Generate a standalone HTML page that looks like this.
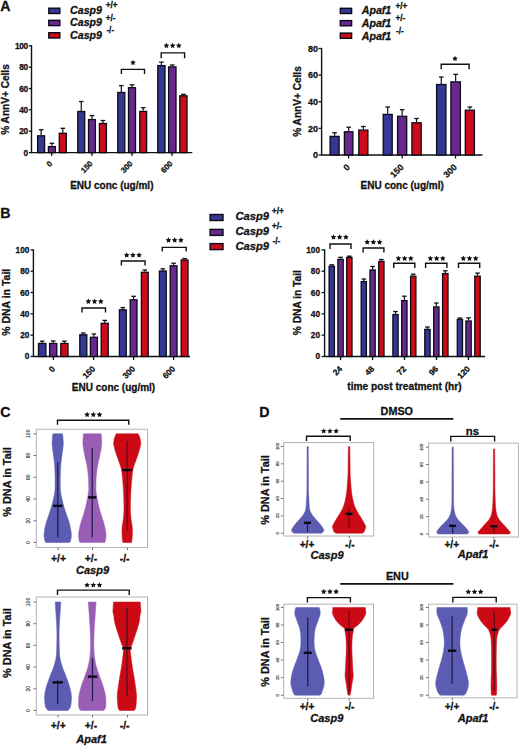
<!DOCTYPE html>
<html><head><meta charset="utf-8"><style>
html,body{margin:0;padding:0;background:#fff;}
svg{display:block;font-family:"Liberation Sans",sans-serif;}
</style></head><body>
<svg width="520" height="747" viewBox="0 0 520 747">
<rect x="0" y="0" width="520" height="747" fill="#fff"/>
<text x="0.3" y="11.3" font-size="14.2" text-anchor="start" font-weight="bold" font-style="normal" fill="#111" stroke="#111" stroke-width="0.28">A</text>
<text x="0.2" y="217.6" font-size="14.2" text-anchor="start" font-weight="bold" font-style="normal" fill="#111" stroke="#111" stroke-width="0.28">B</text>
<text x="0.3" y="416.8" font-size="14.2" text-anchor="start" font-weight="bold" font-style="normal" fill="#111" stroke="#111" stroke-width="0.28">C</text>
<text x="259.3" y="416.8" font-size="14.2" text-anchor="start" font-weight="bold" font-style="normal" fill="#111" stroke="#111" stroke-width="0.28">D</text>
<rect x="48.8" y="8.2" width="11" height="5.3" fill="#343892" stroke="#0a0a1a" stroke-width="1.4"/>
<text x="70.1" y="13.8" font-size="10.6" text-anchor="start" font-weight="bold" font-style="italic" fill="#111" stroke="#111" stroke-width="0.28">Casp9</text>
<text x="105.8" y="8.2" font-size="8.2" text-anchor="start" font-weight="bold" font-style="normal" fill="#111" stroke="#111" stroke-width="0.28">+/+</text>
<rect x="48.8" y="20.3" width="11" height="5.3" fill="#6a288e" stroke="#0a0a1a" stroke-width="1.4"/>
<text x="70.1" y="26.4" font-size="10.6" text-anchor="start" font-weight="bold" font-style="italic" fill="#111" stroke="#111" stroke-width="0.28">Casp9</text>
<text x="105.8" y="20.8" font-size="8.2" text-anchor="start" font-weight="bold" font-style="normal" fill="#111" stroke="#111" stroke-width="0.28">+/-</text>
<rect x="48.8" y="32.7" width="11" height="5.3" fill="#cd0c1a" stroke="#0a0a1a" stroke-width="1.4"/>
<text x="70.1" y="39" font-size="10.6" text-anchor="start" font-weight="bold" font-style="italic" fill="#111" stroke="#111" stroke-width="0.28">Casp9</text>
<text x="106.4" y="33.4" font-size="8.2" text-anchor="start" font-weight="bold" font-style="normal" fill="#111" stroke="#111" stroke-width="0.28">-/-</text>
<rect x="340.3" y="8.3" width="11.3" height="5.2" fill="#343892" stroke="#0a0a1a" stroke-width="1.4"/>
<text x="361.8" y="14.3" font-size="10.6" text-anchor="start" font-weight="bold" font-style="italic" fill="#111" stroke="#111" stroke-width="0.28">Apaf1</text>
<text x="395.4" y="8.5" font-size="8.2" text-anchor="start" font-weight="bold" font-style="normal" fill="#111" stroke="#111" stroke-width="0.28">+/+</text>
<rect x="340.3" y="20.6" width="11.3" height="5.2" fill="#6a288e" stroke="#0a0a1a" stroke-width="1.4"/>
<text x="361.8" y="26.9" font-size="10.6" text-anchor="start" font-weight="bold" font-style="italic" fill="#111" stroke="#111" stroke-width="0.28">Apaf1</text>
<text x="395.4" y="21.1" font-size="8.2" text-anchor="start" font-weight="bold" font-style="normal" fill="#111" stroke="#111" stroke-width="0.28">+/-</text>
<rect x="340.3" y="33.1" width="11.3" height="5.2" fill="#cd0c1a" stroke="#0a0a1a" stroke-width="1.4"/>
<text x="361.8" y="39.5" font-size="10.6" text-anchor="start" font-weight="bold" font-style="italic" fill="#111" stroke="#111" stroke-width="0.28">Apaf1</text>
<text x="396" y="33.7" font-size="8.2" text-anchor="start" font-weight="bold" font-style="normal" fill="#111" stroke="#111" stroke-width="0.28">-/-</text>
<rect x="210.1" y="214.5" width="12.9" height="6" fill="#343892" stroke="#0a0a1a" stroke-width="1.4"/>
<text x="235.4" y="220.2" font-size="11.2" text-anchor="start" font-weight="bold" font-style="italic" fill="#111" stroke="#111" stroke-width="0.28">Casp9</text>
<text x="271.8" y="214.2" font-size="8.5" text-anchor="start" font-weight="bold" font-style="normal" fill="#111" stroke="#111" stroke-width="0.28">+/+</text>
<rect x="210.1" y="229.4" width="12.9" height="6" fill="#6a288e" stroke="#0a0a1a" stroke-width="1.4"/>
<text x="235.4" y="234.9" font-size="11.2" text-anchor="start" font-weight="bold" font-style="italic" fill="#111" stroke="#111" stroke-width="0.28">Casp9</text>
<text x="271.8" y="228.9" font-size="8.5" text-anchor="start" font-weight="bold" font-style="normal" fill="#111" stroke="#111" stroke-width="0.28">+/-</text>
<rect x="210.1" y="243.6" width="12.9" height="6" fill="#cd0c1a" stroke="#0a0a1a" stroke-width="1.4"/>
<text x="235.4" y="249.8" font-size="11.2" text-anchor="start" font-weight="bold" font-style="italic" fill="#111" stroke="#111" stroke-width="0.28">Casp9</text>
<text x="272.4" y="243.8" font-size="8.5" text-anchor="start" font-weight="bold" font-style="normal" fill="#111" stroke="#111" stroke-width="0.28">-/-</text>
<line x1="31.5" y1="45.2" x2="31.5" y2="153.2" stroke="#111" stroke-width="1.4"/>
<line x1="28.9" y1="152.6" x2="31.5" y2="152.6" stroke="#111" stroke-width="1.3"/>
<text x="27.6" y="155.59" font-size="8.3" text-anchor="end" font-weight="bold" font-style="normal" fill="#111" stroke="#111" stroke-width="0.28" letter-spacing="-0.45">0</text>
<line x1="28.9" y1="131.24" x2="31.5" y2="131.24" stroke="#111" stroke-width="1.3"/>
<text x="27.6" y="134.23" font-size="8.3" text-anchor="end" font-weight="bold" font-style="normal" fill="#111" stroke="#111" stroke-width="0.28" letter-spacing="-0.45">20</text>
<line x1="28.9" y1="109.88" x2="31.5" y2="109.88" stroke="#111" stroke-width="1.3"/>
<text x="27.6" y="112.87" font-size="8.3" text-anchor="end" font-weight="bold" font-style="normal" fill="#111" stroke="#111" stroke-width="0.28" letter-spacing="-0.45">40</text>
<line x1="28.9" y1="88.52" x2="31.5" y2="88.52" stroke="#111" stroke-width="1.3"/>
<text x="27.6" y="91.51" font-size="8.3" text-anchor="end" font-weight="bold" font-style="normal" fill="#111" stroke="#111" stroke-width="0.28" letter-spacing="-0.45">60</text>
<line x1="28.9" y1="67.16" x2="31.5" y2="67.16" stroke="#111" stroke-width="1.3"/>
<text x="27.6" y="70.15" font-size="8.3" text-anchor="end" font-weight="bold" font-style="normal" fill="#111" stroke="#111" stroke-width="0.28" letter-spacing="-0.45">80</text>
<line x1="28.9" y1="45.8" x2="31.5" y2="45.8" stroke="#111" stroke-width="1.3"/>
<text x="27.6" y="48.79" font-size="8.3" text-anchor="end" font-weight="bold" font-style="normal" fill="#111" stroke="#111" stroke-width="0.28" letter-spacing="-0.45">100</text>
<line x1="31.5" y1="152.6" x2="192.3" y2="152.6" stroke="#111" stroke-width="1.4"/>
<line x1="51.7" y1="152.6" x2="51.7" y2="156.1" stroke="#111" stroke-width="1.3"/>
<text x="52.9" y="164.2" font-size="7.8" text-anchor="end" font-weight="bold" font-style="normal" fill="#111" stroke="#111" stroke-width="0.28" transform="rotate(-45 52.9 164.2)">0</text>
<line x1="91.9" y1="152.6" x2="91.9" y2="156.1" stroke="#111" stroke-width="1.3"/>
<text x="93.1" y="164.2" font-size="7.8" text-anchor="end" font-weight="bold" font-style="normal" fill="#111" stroke="#111" stroke-width="0.28" transform="rotate(-45 93.1 164.2)">150</text>
<line x1="132" y1="152.6" x2="132" y2="156.1" stroke="#111" stroke-width="1.3"/>
<text x="133.2" y="164.2" font-size="7.8" text-anchor="end" font-weight="bold" font-style="normal" fill="#111" stroke="#111" stroke-width="0.28" transform="rotate(-45 133.2 164.2)">300</text>
<line x1="172" y1="152.6" x2="172" y2="156.1" stroke="#111" stroke-width="1.3"/>
<text x="173.2" y="164.2" font-size="7.8" text-anchor="end" font-weight="bold" font-style="normal" fill="#111" stroke="#111" stroke-width="0.28" transform="rotate(-45 173.2 164.2)">600</text>
<line x1="41.1" y1="135.2" x2="41.1" y2="129.8" stroke="#111" stroke-width="1.2"/>
<line x1="38.8" y1="129.8" x2="43.4" y2="129.8" stroke="#111" stroke-width="1.3"/>
<rect x="37.6" y="135.8" width="7" height="16.8" fill="#343892" stroke="#0a0a1a" stroke-width="1.3"/>
<line x1="51.9" y1="146" x2="51.9" y2="143.3" stroke="#111" stroke-width="1.2"/>
<line x1="49.6" y1="143.3" x2="54.2" y2="143.3" stroke="#111" stroke-width="1.3"/>
<rect x="48.4" y="146.6" width="7" height="6" fill="#6a288e" stroke="#0a0a1a" stroke-width="1.3"/>
<line x1="62.8" y1="132.7" x2="62.8" y2="128.3" stroke="#111" stroke-width="1.2"/>
<line x1="60.5" y1="128.3" x2="65.1" y2="128.3" stroke="#111" stroke-width="1.3"/>
<rect x="59.3" y="133.3" width="7" height="19.3" fill="#cd0c1a" stroke="#0a0a1a" stroke-width="1.3"/>
<line x1="81.25" y1="110.9" x2="81.25" y2="101.5" stroke="#111" stroke-width="1.2"/>
<line x1="78.95" y1="101.5" x2="83.55" y2="101.5" stroke="#111" stroke-width="1.3"/>
<rect x="77.8" y="111.5" width="6.9" height="41.1" fill="#343892" stroke="#0a0a1a" stroke-width="1.3"/>
<line x1="91.95" y1="119" x2="91.95" y2="115.6" stroke="#111" stroke-width="1.2"/>
<line x1="89.65" y1="115.6" x2="94.25" y2="115.6" stroke="#111" stroke-width="1.3"/>
<rect x="88.5" y="119.6" width="6.9" height="33" fill="#6a288e" stroke="#0a0a1a" stroke-width="1.3"/>
<line x1="102.9" y1="122.9" x2="102.9" y2="120.5" stroke="#111" stroke-width="1.2"/>
<line x1="100.6" y1="120.5" x2="105.2" y2="120.5" stroke="#111" stroke-width="1.3"/>
<rect x="99.4" y="123.5" width="7" height="29.1" fill="#cd0c1a" stroke="#0a0a1a" stroke-width="1.3"/>
<line x1="121.3" y1="91.9" x2="121.3" y2="85.6" stroke="#111" stroke-width="1.2"/>
<line x1="119" y1="85.6" x2="123.6" y2="85.6" stroke="#111" stroke-width="1.3"/>
<rect x="117.8" y="92.5" width="7" height="60.1" fill="#343892" stroke="#0a0a1a" stroke-width="1.3"/>
<line x1="132" y1="87.1" x2="132" y2="84.8" stroke="#111" stroke-width="1.2"/>
<line x1="129.7" y1="84.8" x2="134.3" y2="84.8" stroke="#111" stroke-width="1.3"/>
<rect x="128.5" y="87.7" width="7" height="64.9" fill="#6a288e" stroke="#0a0a1a" stroke-width="1.3"/>
<line x1="143.2" y1="110.8" x2="143.2" y2="107.7" stroke="#111" stroke-width="1.2"/>
<line x1="140.9" y1="107.7" x2="145.5" y2="107.7" stroke="#111" stroke-width="1.3"/>
<rect x="139.8" y="111.4" width="6.8" height="41.2" fill="#cd0c1a" stroke="#0a0a1a" stroke-width="1.3"/>
<line x1="161.4" y1="65" x2="161.4" y2="62.1" stroke="#111" stroke-width="1.2"/>
<line x1="159.1" y1="62.1" x2="163.7" y2="62.1" stroke="#111" stroke-width="1.3"/>
<rect x="157.8" y="65.6" width="7.2" height="87" fill="#343892" stroke="#0a0a1a" stroke-width="1.3"/>
<line x1="172.3" y1="66.3" x2="172.3" y2="65" stroke="#111" stroke-width="1.2"/>
<line x1="170" y1="65" x2="174.6" y2="65" stroke="#111" stroke-width="1.3"/>
<rect x="168.6" y="66.9" width="7.4" height="85.7" fill="#6a288e" stroke="#0a0a1a" stroke-width="1.3"/>
<line x1="183.4" y1="95.2" x2="183.4" y2="94.3" stroke="#111" stroke-width="1.2"/>
<line x1="181.1" y1="94.3" x2="185.7" y2="94.3" stroke="#111" stroke-width="1.3"/>
<rect x="179.8" y="95.8" width="7.2" height="56.8" fill="#cd0c1a" stroke="#0a0a1a" stroke-width="1.3"/>
<path d="M121.4 74V69.4H144.5V74" fill="none" stroke="#111" stroke-width="1.4"/>
<polygon points="133,59.75 133.87,61.5 135.81,61.79 134.4,63.15 134.73,65.08 133,64.17 131.27,65.08 131.6,63.15 130.19,61.79 132.13,61.5" fill="#111"/>
<path d="M161.2 58.3V52.9H184.6V58.3" fill="none" stroke="#111" stroke-width="1.4"/>
<polygon points="166.4,42.75 167.27,44.5 169.21,44.79 167.8,46.15 168.13,48.08 166.4,47.17 164.67,48.08 165,46.15 163.59,44.79 165.53,44.5" fill="#111"/>
<polygon points="172.6,42.75 173.47,44.5 175.41,44.79 174,46.15 174.33,48.08 172.6,47.17 170.87,48.08 171.2,46.15 169.79,44.79 171.73,44.5" fill="#111"/>
<polygon points="178.8,42.75 179.67,44.5 181.61,44.79 180.2,46.15 180.53,48.08 178.8,47.17 177.07,48.08 177.4,46.15 175.99,44.79 177.93,44.5" fill="#111"/>
<text x="8.7" y="99.5" font-size="10.1" text-anchor="middle" font-weight="bold" font-style="normal" fill="#111" stroke="#111" stroke-width="0.28" transform="rotate(-90 8.7 99.5)">% AnnV+ Cells</text>
<text x="111.8" y="189.2" font-size="10.0" text-anchor="middle" font-weight="bold" font-style="normal" fill="#111" stroke="#111" stroke-width="0.28">ENU conc (ug/ml)</text>
<line x1="321.6" y1="47.9" x2="321.6" y2="155.6" stroke="#111" stroke-width="1.4"/>
<line x1="318.6" y1="155" x2="321.6" y2="155" stroke="#111" stroke-width="1.3"/>
<text x="318" y="158.24" font-size="9.0" text-anchor="end" font-weight="bold" font-style="normal" fill="#111" stroke="#111" stroke-width="0.28" letter-spacing="0">0</text>
<line x1="318.6" y1="128.38" x2="321.6" y2="128.38" stroke="#111" stroke-width="1.3"/>
<text x="318" y="131.62" font-size="9.0" text-anchor="end" font-weight="bold" font-style="normal" fill="#111" stroke="#111" stroke-width="0.28" letter-spacing="0">20</text>
<line x1="318.6" y1="101.75" x2="321.6" y2="101.75" stroke="#111" stroke-width="1.3"/>
<text x="318" y="104.99" font-size="9.0" text-anchor="end" font-weight="bold" font-style="normal" fill="#111" stroke="#111" stroke-width="0.28" letter-spacing="0">40</text>
<line x1="318.6" y1="75.12" x2="321.6" y2="75.12" stroke="#111" stroke-width="1.3"/>
<text x="318" y="78.36" font-size="9.0" text-anchor="end" font-weight="bold" font-style="normal" fill="#111" stroke="#111" stroke-width="0.28" letter-spacing="0">60</text>
<line x1="318.6" y1="48.5" x2="321.6" y2="48.5" stroke="#111" stroke-width="1.3"/>
<text x="318" y="51.74" font-size="9.0" text-anchor="end" font-weight="bold" font-style="normal" fill="#111" stroke="#111" stroke-width="0.28" letter-spacing="0">80</text>
<line x1="321.6" y1="155" x2="482.4" y2="155" stroke="#111" stroke-width="1.4"/>
<line x1="348.6" y1="155" x2="348.6" y2="158.5" stroke="#111" stroke-width="1.3"/>
<text x="350.6" y="167.8" font-size="8.8" text-anchor="end" font-weight="bold" font-style="normal" fill="#111" stroke="#111" stroke-width="0.28" transform="rotate(-45 350.6 167.8)">0</text>
<line x1="402.2" y1="155" x2="402.2" y2="158.5" stroke="#111" stroke-width="1.3"/>
<text x="404.2" y="167.8" font-size="8.8" text-anchor="end" font-weight="bold" font-style="normal" fill="#111" stroke="#111" stroke-width="0.28" transform="rotate(-45 404.2 167.8)">150</text>
<line x1="455.5" y1="155" x2="455.5" y2="158.5" stroke="#111" stroke-width="1.3"/>
<text x="457.5" y="167.8" font-size="8.8" text-anchor="end" font-weight="bold" font-style="normal" fill="#111" stroke="#111" stroke-width="0.28" transform="rotate(-45 457.5 167.8)">300</text>
<line x1="334.6" y1="135.8" x2="334.6" y2="132.8" stroke="#111" stroke-width="1.2"/>
<line x1="332.3" y1="132.8" x2="336.9" y2="132.8" stroke="#111" stroke-width="1.3"/>
<rect x="330.1" y="136.4" width="9" height="18.6" fill="#343892" stroke="#0a0a1a" stroke-width="1.3"/>
<line x1="348.65" y1="131.2" x2="348.65" y2="127.2" stroke="#111" stroke-width="1.2"/>
<line x1="346.35" y1="127.2" x2="350.95" y2="127.2" stroke="#111" stroke-width="1.3"/>
<rect x="344.4" y="131.8" width="8.5" height="23.2" fill="#6a288e" stroke="#0a0a1a" stroke-width="1.3"/>
<line x1="363.35" y1="129.5" x2="363.35" y2="126.5" stroke="#111" stroke-width="1.2"/>
<line x1="361.05" y1="126.5" x2="365.65" y2="126.5" stroke="#111" stroke-width="1.3"/>
<rect x="358.8" y="130.1" width="9.1" height="24.9" fill="#cd0c1a" stroke="#0a0a1a" stroke-width="1.3"/>
<line x1="387.7" y1="113.8" x2="387.7" y2="107" stroke="#111" stroke-width="1.2"/>
<line x1="385.4" y1="107" x2="390" y2="107" stroke="#111" stroke-width="1.3"/>
<rect x="383.2" y="114.4" width="9" height="40.6" fill="#343892" stroke="#0a0a1a" stroke-width="1.3"/>
<line x1="402.15" y1="115.7" x2="402.15" y2="109.7" stroke="#111" stroke-width="1.2"/>
<line x1="399.85" y1="109.7" x2="404.45" y2="109.7" stroke="#111" stroke-width="1.3"/>
<rect x="397.6" y="116.3" width="9.1" height="38.7" fill="#6a288e" stroke="#0a0a1a" stroke-width="1.3"/>
<line x1="416.55" y1="122.2" x2="416.55" y2="118.5" stroke="#111" stroke-width="1.2"/>
<line x1="414.25" y1="118.5" x2="418.85" y2="118.5" stroke="#111" stroke-width="1.3"/>
<rect x="411.9" y="122.8" width="9.3" height="32.2" fill="#cd0c1a" stroke="#0a0a1a" stroke-width="1.3"/>
<line x1="441.25" y1="83.9" x2="441.25" y2="77" stroke="#111" stroke-width="1.2"/>
<line x1="438.95" y1="77" x2="443.55" y2="77" stroke="#111" stroke-width="1.3"/>
<rect x="436.6" y="84.5" width="9.3" height="70.5" fill="#343892" stroke="#0a0a1a" stroke-width="1.3"/>
<line x1="455.65" y1="81.3" x2="455.65" y2="74.3" stroke="#111" stroke-width="1.2"/>
<line x1="453.35" y1="74.3" x2="457.95" y2="74.3" stroke="#111" stroke-width="1.3"/>
<rect x="450.9" y="81.9" width="9.5" height="73.1" fill="#6a288e" stroke="#0a0a1a" stroke-width="1.3"/>
<line x1="469.85" y1="109.6" x2="469.85" y2="107" stroke="#111" stroke-width="1.2"/>
<line x1="467.55" y1="107" x2="472.15" y2="107" stroke="#111" stroke-width="1.3"/>
<rect x="465.3" y="110.2" width="9.1" height="44.8" fill="#cd0c1a" stroke="#0a0a1a" stroke-width="1.3"/>
<path d="M441.2 69.2V64.3H469.1V69.2" fill="none" stroke="#111" stroke-width="1.4"/>
<polygon points="455,55.75 455.87,57.5 457.81,57.79 456.4,59.15 456.73,61.08 455,60.17 453.27,61.08 453.6,59.15 452.19,57.79 454.13,57.5" fill="#111"/>
<text x="300.6" y="101.5" font-size="10.1" text-anchor="middle" font-weight="bold" font-style="normal" fill="#111" stroke="#111" stroke-width="0.28" transform="rotate(-90 300.6 101.5)">% AnnV+ Cells</text>
<text x="402.2" y="189.2" font-size="10.0" text-anchor="middle" font-weight="bold" font-style="normal" fill="#111" stroke="#111" stroke-width="0.28">ENU conc (ug/ml)</text>
<line x1="33.4" y1="249.3" x2="33.4" y2="357.1" stroke="#111" stroke-width="1.4"/>
<line x1="30.6" y1="356.5" x2="33.4" y2="356.5" stroke="#111" stroke-width="1.3"/>
<text x="29.4" y="359.49" font-size="8.3" text-anchor="end" font-weight="bold" font-style="normal" fill="#111" stroke="#111" stroke-width="0.28" letter-spacing="0">0</text>
<line x1="30.6" y1="335.18" x2="33.4" y2="335.18" stroke="#111" stroke-width="1.3"/>
<text x="29.4" y="338.17" font-size="8.3" text-anchor="end" font-weight="bold" font-style="normal" fill="#111" stroke="#111" stroke-width="0.28" letter-spacing="0">20</text>
<line x1="30.6" y1="313.86" x2="33.4" y2="313.86" stroke="#111" stroke-width="1.3"/>
<text x="29.4" y="316.85" font-size="8.3" text-anchor="end" font-weight="bold" font-style="normal" fill="#111" stroke="#111" stroke-width="0.28" letter-spacing="0">40</text>
<line x1="30.6" y1="292.54" x2="33.4" y2="292.54" stroke="#111" stroke-width="1.3"/>
<text x="29.4" y="295.53" font-size="8.3" text-anchor="end" font-weight="bold" font-style="normal" fill="#111" stroke="#111" stroke-width="0.28" letter-spacing="0">60</text>
<line x1="30.6" y1="271.22" x2="33.4" y2="271.22" stroke="#111" stroke-width="1.3"/>
<text x="29.4" y="274.21" font-size="8.3" text-anchor="end" font-weight="bold" font-style="normal" fill="#111" stroke="#111" stroke-width="0.28" letter-spacing="0">80</text>
<line x1="30.6" y1="249.9" x2="33.4" y2="249.9" stroke="#111" stroke-width="1.3"/>
<text x="29.4" y="252.89" font-size="8.3" text-anchor="end" font-weight="bold" font-style="normal" fill="#111" stroke="#111" stroke-width="0.28" letter-spacing="0">100</text>
<line x1="33.4" y1="356.5" x2="190" y2="356.5" stroke="#111" stroke-width="1.4"/>
<line x1="53.4" y1="356.5" x2="53.4" y2="360" stroke="#111" stroke-width="1.3"/>
<text x="55.6" y="369.4" font-size="8.4" text-anchor="end" font-weight="bold" font-style="normal" fill="#111" stroke="#111" stroke-width="0.28" transform="rotate(-45 55.6 369.4)">0</text>
<line x1="93.6" y1="356.5" x2="93.6" y2="360" stroke="#111" stroke-width="1.3"/>
<text x="95.8" y="369.4" font-size="8.4" text-anchor="end" font-weight="bold" font-style="normal" fill="#111" stroke="#111" stroke-width="0.28" transform="rotate(-45 95.8 369.4)">150</text>
<line x1="133.6" y1="356.5" x2="133.6" y2="360" stroke="#111" stroke-width="1.3"/>
<text x="135.8" y="369.4" font-size="8.4" text-anchor="end" font-weight="bold" font-style="normal" fill="#111" stroke="#111" stroke-width="0.28" transform="rotate(-45 135.8 369.4)">300</text>
<line x1="173.6" y1="356.5" x2="173.6" y2="360" stroke="#111" stroke-width="1.3"/>
<text x="175.8" y="369.4" font-size="8.4" text-anchor="end" font-weight="bold" font-style="normal" fill="#111" stroke="#111" stroke-width="0.28" transform="rotate(-45 175.8 369.4)">600</text>
<line x1="42.2" y1="342.9" x2="42.2" y2="341.2" stroke="#111" stroke-width="1.2"/>
<line x1="39.9" y1="341.2" x2="44.5" y2="341.2" stroke="#111" stroke-width="1.3"/>
<rect x="38.5" y="343.5" width="7.4" height="13" fill="#343892" stroke="#0a0a1a" stroke-width="1.3"/>
<line x1="53.2" y1="342.9" x2="53.2" y2="341" stroke="#111" stroke-width="1.2"/>
<line x1="50.9" y1="341" x2="55.5" y2="341" stroke="#111" stroke-width="1.3"/>
<rect x="49.6" y="343.5" width="7.2" height="13" fill="#6a288e" stroke="#0a0a1a" stroke-width="1.3"/>
<line x1="64.4" y1="342.9" x2="64.4" y2="341.2" stroke="#111" stroke-width="1.2"/>
<line x1="62.1" y1="341.2" x2="66.7" y2="341.2" stroke="#111" stroke-width="1.3"/>
<rect x="60.8" y="343.5" width="7.2" height="13" fill="#cd0c1a" stroke="#0a0a1a" stroke-width="1.3"/>
<line x1="83.3" y1="334.2" x2="83.3" y2="333" stroke="#111" stroke-width="1.2"/>
<line x1="81" y1="333" x2="85.6" y2="333" stroke="#111" stroke-width="1.3"/>
<rect x="79.8" y="334.8" width="7" height="21.7" fill="#343892" stroke="#0a0a1a" stroke-width="1.3"/>
<line x1="93.9" y1="336.7" x2="93.9" y2="334" stroke="#111" stroke-width="1.2"/>
<line x1="91.6" y1="334" x2="96.2" y2="334" stroke="#111" stroke-width="1.3"/>
<rect x="90.4" y="337.3" width="7" height="19.2" fill="#6a288e" stroke="#0a0a1a" stroke-width="1.3"/>
<line x1="104.7" y1="322.7" x2="104.7" y2="320.4" stroke="#111" stroke-width="1.2"/>
<line x1="102.4" y1="320.4" x2="107" y2="320.4" stroke="#111" stroke-width="1.3"/>
<rect x="101.2" y="323.3" width="7" height="33.2" fill="#cd0c1a" stroke="#0a0a1a" stroke-width="1.3"/>
<line x1="122.8" y1="309.2" x2="122.8" y2="307.6" stroke="#111" stroke-width="1.2"/>
<line x1="120.5" y1="307.6" x2="125.1" y2="307.6" stroke="#111" stroke-width="1.3"/>
<rect x="119.4" y="309.8" width="6.8" height="46.7" fill="#343892" stroke="#0a0a1a" stroke-width="1.3"/>
<line x1="133.6" y1="299.2" x2="133.6" y2="296.3" stroke="#111" stroke-width="1.2"/>
<line x1="131.3" y1="296.3" x2="135.9" y2="296.3" stroke="#111" stroke-width="1.3"/>
<rect x="130.2" y="299.8" width="6.8" height="56.7" fill="#6a288e" stroke="#0a0a1a" stroke-width="1.3"/>
<line x1="144.8" y1="271.7" x2="144.8" y2="270" stroke="#111" stroke-width="1.2"/>
<line x1="142.5" y1="270" x2="147.1" y2="270" stroke="#111" stroke-width="1.3"/>
<rect x="141.4" y="272.3" width="6.8" height="84.2" fill="#cd0c1a" stroke="#0a0a1a" stroke-width="1.3"/>
<line x1="162.8" y1="270.4" x2="162.8" y2="268.8" stroke="#111" stroke-width="1.2"/>
<line x1="160.5" y1="268.8" x2="165.1" y2="268.8" stroke="#111" stroke-width="1.3"/>
<rect x="159.4" y="271" width="6.8" height="85.5" fill="#343892" stroke="#0a0a1a" stroke-width="1.3"/>
<line x1="173.6" y1="265.2" x2="173.6" y2="263.2" stroke="#111" stroke-width="1.2"/>
<line x1="171.3" y1="263.2" x2="175.9" y2="263.2" stroke="#111" stroke-width="1.3"/>
<rect x="170.2" y="265.8" width="6.8" height="90.7" fill="#6a288e" stroke="#0a0a1a" stroke-width="1.3"/>
<line x1="184.6" y1="259.4" x2="184.6" y2="258.6" stroke="#111" stroke-width="1.2"/>
<line x1="182.3" y1="258.6" x2="186.9" y2="258.6" stroke="#111" stroke-width="1.3"/>
<rect x="181.2" y="260" width="6.8" height="96.5" fill="#cd0c1a" stroke="#0a0a1a" stroke-width="1.3"/>
<path d="M82 312.5V308H105.5V312.5" fill="none" stroke="#111" stroke-width="1.4"/>
<polygon points="88.4,298.55 89.27,300.3 91.21,300.59 89.8,301.95 90.13,303.88 88.4,302.97 86.67,303.88 87,301.95 85.59,300.59 87.53,300.3" fill="#111"/>
<polygon points="94.6,298.55 95.47,300.3 97.41,300.59 96,301.95 96.33,303.88 94.6,302.97 92.87,303.88 93.2,301.95 91.79,300.59 93.73,300.3" fill="#111"/>
<polygon points="100.8,298.55 101.67,300.3 103.61,300.59 102.2,301.95 102.53,303.88 100.8,302.97 99.07,303.88 99.4,301.95 97.99,300.59 99.93,300.3" fill="#111"/>
<path d="M121.4 265.6V261H145V265.6" fill="none" stroke="#111" stroke-width="1.4"/>
<polygon points="126.7,252.25 127.57,254 129.51,254.29 128.1,255.65 128.43,257.58 126.7,256.67 124.97,257.58 125.3,255.65 123.89,254.29 125.83,254" fill="#111"/>
<polygon points="132.9,252.25 133.77,254 135.71,254.29 134.3,255.65 134.63,257.58 132.9,256.67 131.17,257.58 131.5,255.65 130.09,254.29 132.03,254" fill="#111"/>
<polygon points="139.1,252.25 139.97,254 141.91,254.29 140.5,255.65 140.83,257.58 139.1,256.67 137.37,257.58 137.7,255.65 136.29,254.29 138.23,254" fill="#111"/>
<path d="M162.3 251.6V247.4H186.2V251.6" fill="none" stroke="#111" stroke-width="1.4"/>
<polygon points="168.5,237.35 169.37,239.1 171.31,239.39 169.9,240.75 170.23,242.68 168.5,241.77 166.77,242.68 167.1,240.75 165.69,239.39 167.63,239.1" fill="#111"/>
<polygon points="174.7,237.35 175.57,239.1 177.51,239.39 176.1,240.75 176.43,242.68 174.7,241.77 172.97,242.68 173.3,240.75 171.89,239.39 173.83,239.1" fill="#111"/>
<polygon points="180.9,237.35 181.77,239.1 183.71,239.39 182.3,240.75 182.63,242.68 180.9,241.77 179.17,242.68 179.5,240.75 178.09,239.39 180.03,239.1" fill="#111"/>
<text x="9.95" y="302.3" font-size="10.5" text-anchor="middle" font-weight="bold" font-style="normal" fill="#111" stroke="#111" stroke-width="0.28" transform="rotate(-90 9.95 302.3)">% DNA in Tail</text>
<text x="113.5" y="391" font-size="10.0" text-anchor="middle" font-weight="bold" font-style="normal" fill="#111" stroke="#111" stroke-width="0.28">ENU conc (ug/ml)</text>
<line x1="324.6" y1="249.3" x2="324.6" y2="357.1" stroke="#111" stroke-width="1.4"/>
<line x1="321.6" y1="356.5" x2="324.6" y2="356.5" stroke="#111" stroke-width="1.3"/>
<text x="320" y="359.49" font-size="8.3" text-anchor="end" font-weight="bold" font-style="normal" fill="#111" stroke="#111" stroke-width="0.28" letter-spacing="0">0</text>
<line x1="321.6" y1="335.18" x2="324.6" y2="335.18" stroke="#111" stroke-width="1.3"/>
<text x="320" y="338.17" font-size="8.3" text-anchor="end" font-weight="bold" font-style="normal" fill="#111" stroke="#111" stroke-width="0.28" letter-spacing="0">20</text>
<line x1="321.6" y1="313.86" x2="324.6" y2="313.86" stroke="#111" stroke-width="1.3"/>
<text x="320" y="316.85" font-size="8.3" text-anchor="end" font-weight="bold" font-style="normal" fill="#111" stroke="#111" stroke-width="0.28" letter-spacing="0">40</text>
<line x1="321.6" y1="292.54" x2="324.6" y2="292.54" stroke="#111" stroke-width="1.3"/>
<text x="320" y="295.53" font-size="8.3" text-anchor="end" font-weight="bold" font-style="normal" fill="#111" stroke="#111" stroke-width="0.28" letter-spacing="0">60</text>
<line x1="321.6" y1="271.22" x2="324.6" y2="271.22" stroke="#111" stroke-width="1.3"/>
<text x="320" y="274.21" font-size="8.3" text-anchor="end" font-weight="bold" font-style="normal" fill="#111" stroke="#111" stroke-width="0.28" letter-spacing="0">80</text>
<line x1="321.6" y1="249.9" x2="324.6" y2="249.9" stroke="#111" stroke-width="1.3"/>
<text x="320" y="252.89" font-size="8.3" text-anchor="end" font-weight="bold" font-style="normal" fill="#111" stroke="#111" stroke-width="0.28" letter-spacing="0">100</text>
<line x1="324.6" y1="356.5" x2="485.1" y2="356.5" stroke="#111" stroke-width="1.4"/>
<line x1="340.6" y1="356.5" x2="340.6" y2="360" stroke="#111" stroke-width="1.3"/>
<text x="342.8" y="369.4" font-size="8.3" text-anchor="end" font-weight="bold" font-style="normal" fill="#111" stroke="#111" stroke-width="0.28" transform="rotate(-45 342.8 369.4)">24</text>
<line x1="372.6" y1="356.5" x2="372.6" y2="360" stroke="#111" stroke-width="1.3"/>
<text x="374.8" y="369.4" font-size="8.3" text-anchor="end" font-weight="bold" font-style="normal" fill="#111" stroke="#111" stroke-width="0.28" transform="rotate(-45 374.8 369.4)">48</text>
<line x1="404.5" y1="356.5" x2="404.5" y2="360" stroke="#111" stroke-width="1.3"/>
<text x="406.7" y="369.4" font-size="8.3" text-anchor="end" font-weight="bold" font-style="normal" fill="#111" stroke="#111" stroke-width="0.28" transform="rotate(-45 406.7 369.4)">72</text>
<line x1="436.5" y1="356.5" x2="436.5" y2="360" stroke="#111" stroke-width="1.3"/>
<text x="438.7" y="369.4" font-size="8.3" text-anchor="end" font-weight="bold" font-style="normal" fill="#111" stroke="#111" stroke-width="0.28" transform="rotate(-45 438.7 369.4)">96</text>
<line x1="468.4" y1="356.5" x2="468.4" y2="360" stroke="#111" stroke-width="1.3"/>
<text x="470.6" y="369.4" font-size="8.3" text-anchor="end" font-weight="bold" font-style="normal" fill="#111" stroke="#111" stroke-width="0.28" transform="rotate(-45 470.6 369.4)">120</text>
<line x1="331.75" y1="265.6" x2="331.75" y2="264.8" stroke="#111" stroke-width="1.2"/>
<line x1="329.45" y1="264.8" x2="334.05" y2="264.8" stroke="#111" stroke-width="1.3"/>
<rect x="329.1" y="266.2" width="5.3" height="90.3" fill="#343892" stroke="#0a0a1a" stroke-width="1.3"/>
<line x1="340.55" y1="258.8" x2="340.55" y2="257.3" stroke="#111" stroke-width="1.2"/>
<line x1="338.25" y1="257.3" x2="342.85" y2="257.3" stroke="#111" stroke-width="1.3"/>
<rect x="337.9" y="259.4" width="5.3" height="97.1" fill="#6a288e" stroke="#0a0a1a" stroke-width="1.3"/>
<line x1="349.35" y1="256.9" x2="349.35" y2="256.2" stroke="#111" stroke-width="1.2"/>
<line x1="347.05" y1="256.2" x2="351.65" y2="256.2" stroke="#111" stroke-width="1.3"/>
<rect x="346.7" y="257.5" width="5.3" height="99" fill="#cd0c1a" stroke="#0a0a1a" stroke-width="1.3"/>
<line x1="363.8" y1="281" x2="363.8" y2="279" stroke="#111" stroke-width="1.2"/>
<line x1="361.5" y1="279" x2="366.1" y2="279" stroke="#111" stroke-width="1.3"/>
<rect x="361.2" y="281.6" width="5.2" height="74.9" fill="#343892" stroke="#0a0a1a" stroke-width="1.3"/>
<line x1="372.6" y1="269.4" x2="372.6" y2="266.5" stroke="#111" stroke-width="1.2"/>
<line x1="370.3" y1="266.5" x2="374.9" y2="266.5" stroke="#111" stroke-width="1.3"/>
<rect x="370" y="270" width="5.2" height="86.5" fill="#6a288e" stroke="#0a0a1a" stroke-width="1.3"/>
<line x1="381.35" y1="260.8" x2="381.35" y2="259.5" stroke="#111" stroke-width="1.2"/>
<line x1="379.05" y1="259.5" x2="383.65" y2="259.5" stroke="#111" stroke-width="1.3"/>
<rect x="378.7" y="261.4" width="5.3" height="95.1" fill="#cd0c1a" stroke="#0a0a1a" stroke-width="1.3"/>
<line x1="395.5" y1="314" x2="395.5" y2="311.5" stroke="#111" stroke-width="1.2"/>
<line x1="393.2" y1="311.5" x2="397.8" y2="311.5" stroke="#111" stroke-width="1.3"/>
<rect x="392.9" y="314.6" width="5.2" height="41.9" fill="#343892" stroke="#0a0a1a" stroke-width="1.3"/>
<line x1="404.35" y1="300" x2="404.35" y2="296.2" stroke="#111" stroke-width="1.2"/>
<line x1="402.05" y1="296.2" x2="406.65" y2="296.2" stroke="#111" stroke-width="1.3"/>
<rect x="401.7" y="300.6" width="5.3" height="55.9" fill="#6a288e" stroke="#0a0a1a" stroke-width="1.3"/>
<line x1="413.25" y1="275.6" x2="413.25" y2="274.2" stroke="#111" stroke-width="1.2"/>
<line x1="410.95" y1="274.2" x2="415.55" y2="274.2" stroke="#111" stroke-width="1.3"/>
<rect x="410.6" y="276.2" width="5.3" height="80.3" fill="#cd0c1a" stroke="#0a0a1a" stroke-width="1.3"/>
<line x1="427.45" y1="328.8" x2="427.45" y2="327" stroke="#111" stroke-width="1.2"/>
<line x1="425.15" y1="327" x2="429.75" y2="327" stroke="#111" stroke-width="1.3"/>
<rect x="424.8" y="329.4" width="5.3" height="27.1" fill="#343892" stroke="#0a0a1a" stroke-width="1.3"/>
<line x1="436.35" y1="306.3" x2="436.35" y2="303" stroke="#111" stroke-width="1.2"/>
<line x1="434.05" y1="303" x2="438.65" y2="303" stroke="#111" stroke-width="1.3"/>
<rect x="433.7" y="306.9" width="5.3" height="49.6" fill="#6a288e" stroke="#0a0a1a" stroke-width="1.3"/>
<line x1="445.3" y1="273" x2="445.3" y2="270.8" stroke="#111" stroke-width="1.2"/>
<line x1="443" y1="270.8" x2="447.6" y2="270.8" stroke="#111" stroke-width="1.3"/>
<rect x="442.6" y="273.6" width="5.4" height="82.9" fill="#cd0c1a" stroke="#0a0a1a" stroke-width="1.3"/>
<line x1="459.9" y1="318.8" x2="459.9" y2="318" stroke="#111" stroke-width="1.2"/>
<line x1="457.6" y1="318" x2="462.2" y2="318" stroke="#111" stroke-width="1.3"/>
<rect x="457.3" y="319.4" width="5.2" height="37.1" fill="#343892" stroke="#0a0a1a" stroke-width="1.3"/>
<line x1="468.55" y1="320.4" x2="468.55" y2="317.9" stroke="#111" stroke-width="1.2"/>
<line x1="466.25" y1="317.9" x2="470.85" y2="317.9" stroke="#111" stroke-width="1.3"/>
<rect x="465.9" y="321" width="5.3" height="35.5" fill="#6a288e" stroke="#0a0a1a" stroke-width="1.3"/>
<line x1="477.5" y1="275.6" x2="477.5" y2="273.1" stroke="#111" stroke-width="1.2"/>
<line x1="475.2" y1="273.1" x2="479.8" y2="273.1" stroke="#111" stroke-width="1.3"/>
<rect x="474.8" y="276.2" width="5.4" height="80.3" fill="#cd0c1a" stroke="#0a0a1a" stroke-width="1.3"/>
<path d="M330 248.9V244H351V248.9" fill="none" stroke="#111" stroke-width="1.4"/>
<polygon points="333.5,234.25 334.37,236 336.31,236.29 334.9,237.65 335.23,239.58 333.5,238.67 331.77,239.58 332.1,237.65 330.69,236.29 332.63,236" fill="#111"/>
<polygon points="339.7,234.25 340.57,236 342.51,236.29 341.1,237.65 341.43,239.58 339.7,238.67 337.97,239.58 338.3,237.65 336.89,236.29 338.83,236" fill="#111"/>
<polygon points="345.9,234.25 346.77,236 348.71,236.29 347.3,237.65 347.63,239.58 345.9,238.67 344.17,239.58 344.5,237.65 343.09,236.29 345.03,236" fill="#111"/>
<path d="M363.1 252.6V248H383.9V252.6" fill="none" stroke="#111" stroke-width="1.4"/>
<polygon points="367.2,239.25 368.07,241 370.01,241.29 368.6,242.65 368.93,244.58 367.2,243.67 365.47,244.58 365.8,242.65 364.39,241.29 366.33,241" fill="#111"/>
<polygon points="373.4,239.25 374.27,241 376.21,241.29 374.8,242.65 375.13,244.58 373.4,243.67 371.67,244.58 372,242.65 370.59,241.29 372.53,241" fill="#111"/>
<polygon points="379.6,239.25 380.47,241 382.41,241.29 381,242.65 381.33,244.58 379.6,243.67 377.87,244.58 378.2,242.65 376.79,241.29 378.73,241" fill="#111"/>
<path d="M393.7 267.9V263.2H414.8V267.9" fill="none" stroke="#111" stroke-width="1.4"/>
<polygon points="398.4,255.55 399.27,257.3 401.21,257.59 399.8,258.95 400.13,260.88 398.4,259.97 396.67,260.88 397,258.95 395.59,257.59 397.53,257.3" fill="#111"/>
<polygon points="404.6,255.55 405.47,257.3 407.41,257.59 406,258.95 406.33,260.88 404.6,259.97 402.87,260.88 403.2,258.95 401.79,257.59 403.73,257.3" fill="#111"/>
<polygon points="410.8,255.55 411.67,257.3 413.61,257.59 412.2,258.95 412.53,260.88 410.8,259.97 409.07,260.88 409.4,258.95 407.99,257.59 409.93,257.3" fill="#111"/>
<path d="M425.6 267.9V263.2H446.9V267.9" fill="none" stroke="#111" stroke-width="1.4"/>
<polygon points="430.4,255.55 431.27,257.3 433.21,257.59 431.8,258.95 432.13,260.88 430.4,259.97 428.67,260.88 429,258.95 427.59,257.59 429.53,257.3" fill="#111"/>
<polygon points="436.6,255.55 437.47,257.3 439.41,257.59 438,258.95 438.33,260.88 436.6,259.97 434.87,260.88 435.2,258.95 433.79,257.59 435.73,257.3" fill="#111"/>
<polygon points="442.8,255.55 443.67,257.3 445.61,257.59 444.2,258.95 444.53,260.88 442.8,259.97 441.07,260.88 441.4,258.95 439.99,257.59 441.93,257.3" fill="#111"/>
<path d="M458.5 267.9V263.2H479.7V267.9" fill="none" stroke="#111" stroke-width="1.4"/>
<polygon points="463.3,255.55 464.17,257.3 466.11,257.59 464.7,258.95 465.03,260.88 463.3,259.97 461.57,260.88 461.9,258.95 460.49,257.59 462.43,257.3" fill="#111"/>
<polygon points="469.5,255.55 470.37,257.3 472.31,257.59 470.9,258.95 471.23,260.88 469.5,259.97 467.77,260.88 468.1,258.95 466.69,257.59 468.63,257.3" fill="#111"/>
<polygon points="475.7,255.55 476.57,257.3 478.51,257.59 477.1,258.95 477.43,260.88 475.7,259.97 473.97,260.88 474.3,258.95 472.89,257.59 474.83,257.3" fill="#111"/>
<text x="300.6" y="302.6" font-size="10.2" text-anchor="middle" font-weight="bold" font-style="normal" fill="#111" stroke="#111" stroke-width="0.28" transform="rotate(-90 300.6 302.6)">% DNA in Tail</text>
<text x="404.5" y="390.2" font-size="10.2" text-anchor="middle" font-weight="bold" font-style="normal" fill="#111" stroke="#111" stroke-width="0.28">time post treatment (hr)</text>
<rect x="36.25" y="429.25" width="111.25" height="118.25" fill="none" stroke="#b4b4b4" stroke-width="1"/>
<line x1="33.45" y1="542.5" x2="36.25" y2="542.5" stroke="#666" stroke-width="0.9"/>
<text x="30.2" y="542.5" font-size="5.0" text-anchor="middle" font-weight="normal" font-style="normal" fill="#333" stroke="#333" stroke-width="0.15" transform="rotate(-90 30.2 542.5)">0</text>
<line x1="33.45" y1="520.75" x2="36.25" y2="520.75" stroke="#666" stroke-width="0.9"/>
<text x="30.2" y="520.75" font-size="5.0" text-anchor="middle" font-weight="normal" font-style="normal" fill="#333" stroke="#333" stroke-width="0.15" transform="rotate(-90 30.2 520.75)">20</text>
<line x1="33.45" y1="499" x2="36.25" y2="499" stroke="#666" stroke-width="0.9"/>
<text x="30.2" y="499" font-size="5.0" text-anchor="middle" font-weight="normal" font-style="normal" fill="#333" stroke="#333" stroke-width="0.15" transform="rotate(-90 30.2 499)">40</text>
<line x1="33.45" y1="477.25" x2="36.25" y2="477.25" stroke="#666" stroke-width="0.9"/>
<text x="30.2" y="477.25" font-size="5.0" text-anchor="middle" font-weight="normal" font-style="normal" fill="#333" stroke="#333" stroke-width="0.15" transform="rotate(-90 30.2 477.25)">60</text>
<line x1="33.45" y1="455.5" x2="36.25" y2="455.5" stroke="#666" stroke-width="0.9"/>
<text x="30.2" y="455.5" font-size="5.0" text-anchor="middle" font-weight="normal" font-style="normal" fill="#333" stroke="#333" stroke-width="0.15" transform="rotate(-90 30.2 455.5)">80</text>
<line x1="33.45" y1="433.75" x2="36.25" y2="433.75" stroke="#666" stroke-width="0.9"/>
<text x="30.2" y="433.75" font-size="5.0" text-anchor="middle" font-weight="normal" font-style="normal" fill="#333" stroke="#333" stroke-width="0.15" transform="rotate(-90 30.2 433.75)">100</text>
<line x1="58" y1="547.5" x2="58" y2="550" stroke="#666" stroke-width="0.9"/>
<line x1="92.5" y1="547.5" x2="92.5" y2="550" stroke="#666" stroke-width="0.9"/>
<line x1="127.5" y1="547.5" x2="127.5" y2="550" stroke="#666" stroke-width="0.9"/>
<path d="M69.7 542.5 L69.78 542.36 L69.89 542.21 L70.02 542.03 L70.16 541.81 L70.31 541.54 L70.45 541.21 L70.59 540.81 L70.7 540.33 L70.81 539.76 L70.93 539.12 L71.05 538.41 L71.16 537.63 L71.25 536.8 L71.31 535.92 L71.33 534.99 L71.3 534.02 L71.22 532.98 L71.09 531.86 L70.93 530.68 L70.74 529.45 L70.51 528.2 L70.26 526.93 L69.99 525.68 L69.7 524.45 L69.38 523.23 L69.01 522.01 L68.61 520.78 L68.19 519.55 L67.76 518.32 L67.32 517.1 L66.9 515.87 L66.5 514.66 L66.11 513.47 L65.73 512.32 L65.35 511.19 L64.98 510.05 L64.6 508.89 L64.23 507.69 L63.86 506.43 L63.5 505.09 L63.12 503.64 L62.73 502.08 L62.33 500.46 L61.94 498.8 L61.57 497.13 L61.23 495.5 L60.93 493.94 L60.7 492.48 L60.53 491.09 L60.42 489.75 L60.35 488.45 L60.32 487.2 L60.31 485.99 L60.31 484.84 L60.31 483.74 L60.3 482.69 L60.28 481.74 L60.27 480.9 L60.27 480.15 L60.28 479.43 L60.29 478.7 L60.31 477.95 L60.33 477.11 L60.35 476.16 L60.37 475.09 L60.4 473.94 L60.43 472.72 L60.47 471.45 L60.51 470.16 L60.56 468.88 L60.62 467.61 L60.7 466.38 L60.79 465.16 L60.9 463.93 L61.03 462.69 L61.16 461.46 L61.3 460.26 L61.43 459.09 L61.57 457.97 L61.7 456.91 L61.83 455.93 L61.96 455 L62.09 454.12 L62.23 453.28 L62.35 452.46 L62.48 451.66 L62.59 450.86 L62.7 450.06 L62.8 449.26 L62.9 448.48 L62.99 447.71 L63.08 446.96 L63.16 446.21 L63.22 445.46 L63.27 444.72 L63.3 443.97 L63.31 443.22 L63.29 442.45 L63.26 441.69 L63.22 440.93 L63.17 440.18 L63.11 439.46 L63.05 438.76 L63 438.1 L62.94 437.45 L62.88 436.8 L62.81 436.17 L62.73 435.56 L62.66 435 L62.59 434.5 L62.54 434.08 L62.5 433.75 L52.9 433.75 L52.86 434.08 L52.81 434.5 L52.74 435 L52.67 435.56 L52.59 436.17 L52.52 436.8 L52.46 437.45 L52.4 438.1 L52.35 438.76 L52.29 439.46 L52.23 440.18 L52.18 440.93 L52.14 441.69 L52.11 442.45 L52.09 443.22 L52.1 443.97 L52.13 444.72 L52.18 445.46 L52.24 446.21 L52.32 446.96 L52.41 447.71 L52.5 448.48 L52.6 449.26 L52.7 450.06 L52.81 450.86 L52.92 451.66 L53.05 452.46 L53.18 453.28 L53.31 454.12 L53.44 455 L53.57 455.93 L53.7 456.91 L53.83 457.97 L53.97 459.09 L54.1 460.26 L54.24 461.46 L54.37 462.69 L54.5 463.93 L54.61 465.16 L54.7 466.38 L54.78 467.61 L54.84 468.88 L54.89 470.16 L54.93 471.45 L54.97 472.72 L55 473.94 L55.03 475.09 L55.05 476.16 L55.07 477.11 L55.09 477.95 L55.11 478.7 L55.12 479.43 L55.13 480.15 L55.13 480.9 L55.12 481.74 L55.1 482.69 L55.09 483.74 L55.09 484.84 L55.09 485.99 L55.08 487.2 L55.05 488.45 L54.98 489.75 L54.87 491.09 L54.7 492.48 L54.47 493.94 L54.17 495.5 L53.83 497.13 L53.46 498.8 L53.07 500.46 L52.67 502.08 L52.28 503.64 L51.9 505.09 L51.54 506.43 L51.17 507.69 L50.8 508.89 L50.43 510.05 L50.05 511.19 L49.67 512.32 L49.29 513.47 L48.9 514.66 L48.5 515.87 L48.08 517.1 L47.64 518.32 L47.21 519.55 L46.79 520.78 L46.39 522.01 L46.02 523.23 L45.7 524.45 L45.41 525.68 L45.14 526.93 L44.89 528.2 L44.66 529.45 L44.47 530.68 L44.31 531.86 L44.18 532.98 L44.1 534.02 L44.07 534.99 L44.09 535.92 L44.15 536.8 L44.24 537.63 L44.35 538.41 L44.47 539.12 L44.59 539.76 L44.7 540.33 L44.81 540.81 L44.95 541.21 L45.09 541.54 L45.24 541.81 L45.38 542.03 L45.51 542.21 L45.62 542.36 L45.7 542.5Z" fill="#5c5db2" stroke="#5c5db2" stroke-width="0.5" stroke-linejoin="round"/>
<path d="M104.8 542.5 L104.86 542.36 L104.93 542.21 L105.02 542.03 L105.12 541.81 L105.23 541.54 L105.33 541.21 L105.42 540.81 L105.5 540.33 L105.58 539.76 L105.68 539.12 L105.78 538.41 L105.88 537.63 L105.95 536.8 L106 535.92 L106 534.99 L105.95 534.02 L105.85 532.98 L105.7 531.86 L105.51 530.68 L105.29 529.45 L105.05 528.2 L104.78 526.93 L104.5 525.68 L104.2 524.45 L103.88 523.23 L103.52 522.01 L103.13 520.78 L102.73 519.55 L102.32 518.32 L101.91 517.1 L101.52 515.87 L101.15 514.66 L100.8 513.47 L100.45 512.32 L100.11 511.19 L99.78 510.05 L99.45 508.89 L99.13 507.69 L98.81 506.43 L98.5 505.09 L98.18 503.62 L97.84 502.03 L97.5 500.36 L97.17 498.66 L96.86 496.97 L96.58 495.35 L96.34 493.83 L96.15 492.48 L96.01 491.29 L95.92 490.25 L95.87 489.3 L95.85 488.42 L95.85 487.58 L95.87 486.72 L95.89 485.83 L95.9 484.86 L95.91 483.83 L95.94 482.79 L95.97 481.73 L96.01 480.65 L96.06 479.55 L96.13 478.44 L96.21 477.31 L96.3 476.16 L96.41 474.99 L96.52 473.78 L96.66 472.56 L96.8 471.32 L96.96 470.07 L97.12 468.82 L97.31 467.59 L97.5 466.38 L97.72 465.16 L97.96 463.93 L98.22 462.69 L98.49 461.46 L98.76 460.26 L99.02 459.09 L99.27 457.97 L99.5 456.91 L99.71 455.93 L99.91 455 L100.1 454.12 L100.27 453.28 L100.45 452.46 L100.61 451.66 L100.76 450.86 L100.9 450.06 L101.04 449.26 L101.17 448.48 L101.29 447.71 L101.4 446.96 L101.5 446.21 L101.58 445.46 L101.65 444.72 L101.7 443.97 L101.72 443.22 L101.72 442.45 L101.7 441.69 L101.67 440.93 L101.63 440.18 L101.58 439.46 L101.54 438.76 L101.5 438.1 L101.46 437.45 L101.41 436.8 L101.36 436.17 L101.31 435.56 L101.26 435 L101.22 434.5 L101.18 434.08 L101.15 433.75 L83.45 433.75 L83.42 434.08 L83.38 434.5 L83.34 435 L83.29 435.56 L83.24 436.17 L83.19 436.8 L83.14 437.45 L83.1 438.1 L83.06 438.76 L83.02 439.46 L82.97 440.18 L82.93 440.93 L82.9 441.69 L82.88 442.45 L82.88 443.22 L82.9 443.97 L82.95 444.72 L83.02 445.46 L83.1 446.21 L83.2 446.96 L83.31 447.71 L83.43 448.48 L83.56 449.26 L83.7 450.06 L83.84 450.86 L83.99 451.66 L84.15 452.46 L84.33 453.28 L84.5 454.12 L84.69 455 L84.89 455.93 L85.1 456.91 L85.33 457.97 L85.58 459.09 L85.84 460.26 L86.11 461.46 L86.38 462.69 L86.64 463.93 L86.88 465.16 L87.1 466.38 L87.29 467.59 L87.47 468.82 L87.64 470.07 L87.8 471.32 L87.94 472.56 L88.08 473.78 L88.19 474.99 L88.3 476.16 L88.39 477.31 L88.47 478.44 L88.54 479.55 L88.59 480.65 L88.63 481.73 L88.66 482.79 L88.69 483.83 L88.7 484.86 L88.71 485.83 L88.73 486.72 L88.75 487.58 L88.75 488.42 L88.73 489.3 L88.68 490.25 L88.59 491.29 L88.45 492.48 L88.26 493.83 L88.02 495.35 L87.74 496.97 L87.42 498.66 L87.1 500.36 L86.76 502.03 L86.42 503.62 L86.1 505.09 L85.79 506.43 L85.47 507.69 L85.15 508.89 L84.82 510.05 L84.49 511.19 L84.15 512.32 L83.8 513.47 L83.45 514.66 L83.08 515.87 L82.69 517.1 L82.28 518.32 L81.87 519.55 L81.47 520.78 L81.08 522.01 L80.72 523.23 L80.4 524.45 L80.1 525.68 L79.82 526.93 L79.55 528.2 L79.31 529.45 L79.09 530.68 L78.9 531.86 L78.75 532.98 L78.65 534.02 L78.6 534.99 L78.6 535.92 L78.65 536.8 L78.72 537.63 L78.82 538.41 L78.92 539.12 L79.02 539.76 L79.1 540.33 L79.18 540.81 L79.27 541.21 L79.37 541.54 L79.48 541.81 L79.58 542.03 L79.67 542.21 L79.74 542.36 L79.8 542.5Z" fill="#9a5db4" stroke="#9a5db4" stroke-width="0.5" stroke-linejoin="round"/>
<path d="M131.6 542.5 L131.63 542.26 L131.67 541.96 L131.72 541.61 L131.78 541.21 L131.83 540.76 L131.89 540.28 L131.95 539.77 L132 539.24 L132.05 538.67 L132.11 538.06 L132.17 537.41 L132.23 536.72 L132.29 536.01 L132.34 535.29 L132.37 534.55 L132.4 533.8 L132.42 533.05 L132.44 532.3 L132.45 531.53 L132.46 530.74 L132.45 529.93 L132.42 529.08 L132.37 528.2 L132.3 527.27 L132.19 526.3 L132.04 525.28 L131.87 524.22 L131.68 523.13 L131.49 522.01 L131.3 520.88 L131.14 519.73 L131 518.58 L130.89 517.4 L130.78 516.2 L130.69 514.98 L130.61 513.75 L130.54 512.51 L130.48 511.26 L130.43 510.02 L130.4 508.79 L130.39 507.54 L130.39 506.26 L130.42 504.97 L130.45 503.69 L130.49 502.43 L130.53 501.22 L130.57 500.07 L130.6 499 L130.62 498.05 L130.64 497.22 L130.65 496.46 L130.67 495.74 L130.69 495.02 L130.71 494.26 L130.75 493.42 L130.8 492.48 L130.86 491.39 L130.94 490.21 L131.03 488.95 L131.12 487.65 L131.22 486.34 L131.31 485.06 L131.41 483.83 L131.5 482.69 L131.59 481.62 L131.67 480.61 L131.75 479.63 L131.83 478.68 L131.92 477.75 L132 476.85 L132.1 475.96 L132.2 475.07 L132.3 474.21 L132.39 473.39 L132.49 472.6 L132.59 471.81 L132.7 471.03 L132.84 470.23 L133 469.41 L133.2 468.55 L133.44 467.65 L133.71 466.72 L134.02 465.77 L134.34 464.81 L134.68 463.84 L135.03 462.87 L135.37 461.9 L135.7 460.94 L136.03 459.98 L136.38 459.01 L136.74 458.04 L137.09 457.06 L137.44 456.1 L137.78 455.15 L138.1 454.22 L138.4 453.32 L138.68 452.44 L138.94 451.54 L139.19 450.66 L139.43 449.79 L139.65 448.96 L139.86 448.18 L140.04 447.45 L140.2 446.8 L140.34 446.24 L140.46 445.78 L140.57 445.39 L140.65 445.03 L140.72 444.7 L140.76 444.35 L140.79 443.98 L140.8 443.54 L140.79 443.04 L140.74 442.5 L140.68 441.94 L140.6 441.36 L140.51 440.79 L140.41 440.22 L140.3 439.69 L140.2 439.19 L140.09 438.72 L139.98 438.27 L139.86 437.84 L139.73 437.42 L139.6 437.02 L139.47 436.64 L139.33 436.27 L139.2 435.93 L139.06 435.59 L138.91 435.25 L138.75 434.93 L138.59 434.63 L138.44 434.36 L138.3 434.12 L138.19 433.91 L138.1 433.75 L116.3 433.75 L116.21 433.91 L116.1 434.12 L115.96 434.36 L115.81 434.63 L115.65 434.93 L115.49 435.25 L115.34 435.59 L115.2 435.93 L115.07 436.27 L114.93 436.64 L114.8 437.02 L114.67 437.42 L114.54 437.84 L114.42 438.27 L114.31 438.72 L114.2 439.19 L114.1 439.69 L113.99 440.22 L113.89 440.79 L113.8 441.36 L113.72 441.94 L113.66 442.5 L113.61 443.04 L113.6 443.54 L113.61 443.98 L113.64 444.35 L113.68 444.7 L113.75 445.03 L113.83 445.39 L113.94 445.78 L114.06 446.24 L114.2 446.8 L114.36 447.45 L114.54 448.18 L114.75 448.96 L114.97 449.79 L115.21 450.66 L115.46 451.54 L115.72 452.44 L116 453.32 L116.3 454.22 L116.62 455.15 L116.96 456.1 L117.31 457.06 L117.66 458.04 L118.02 459.01 L118.37 459.98 L118.7 460.94 L119.03 461.9 L119.37 462.87 L119.72 463.84 L120.06 464.81 L120.38 465.77 L120.69 466.72 L120.96 467.65 L121.2 468.55 L121.4 469.41 L121.56 470.23 L121.7 471.03 L121.81 471.81 L121.91 472.6 L122.01 473.39 L122.1 474.21 L122.2 475.07 L122.3 475.96 L122.4 476.85 L122.48 477.75 L122.57 478.68 L122.65 479.63 L122.73 480.61 L122.81 481.62 L122.9 482.69 L122.99 483.83 L123.09 485.06 L123.18 486.34 L123.28 487.65 L123.37 488.95 L123.46 490.21 L123.54 491.39 L123.6 492.48 L123.65 493.42 L123.69 494.26 L123.71 495.02 L123.73 495.74 L123.75 496.46 L123.76 497.22 L123.78 498.05 L123.8 499 L123.83 500.07 L123.87 501.22 L123.91 502.43 L123.95 503.69 L123.98 504.97 L124.01 506.26 L124.01 507.54 L124 508.79 L123.97 510.02 L123.92 511.26 L123.86 512.51 L123.79 513.75 L123.71 514.98 L123.62 516.2 L123.51 517.4 L123.4 518.58 L123.26 519.73 L123.1 520.88 L122.91 522.01 L122.72 523.13 L122.53 524.22 L122.36 525.28 L122.21 526.3 L122.1 527.27 L122.03 528.2 L121.98 529.08 L121.95 529.93 L121.94 530.74 L121.95 531.53 L121.96 532.3 L121.98 533.05 L122 533.8 L122.03 534.55 L122.06 535.29 L122.11 536.01 L122.17 536.72 L122.23 537.41 L122.29 538.06 L122.35 538.67 L122.4 539.24 L122.45 539.77 L122.51 540.28 L122.57 540.76 L122.62 541.21 L122.68 541.61 L122.73 541.96 L122.77 542.26 L122.8 542.5Z" fill="#cc0a16" stroke="#cc0a16" stroke-width="0.5" stroke-linejoin="round"/>
<line x1="57.8" y1="462.46" x2="57.8" y2="537.17" stroke="#1a1a48" stroke-width="1.2"/>
<rect x="53.15" y="504.65" width="9.3" height="2.4" fill="#0c0a18"/>
<line x1="92.2" y1="448.11" x2="92.2" y2="537.17" stroke="#1a1a48" stroke-width="1.2"/>
<rect x="88.1" y="496.17" width="8.2" height="2.4" fill="#0c0a18"/>
<line x1="127.2" y1="440.93" x2="127.2" y2="530.54" stroke="#6a0a18" stroke-width="1.4"/>
<rect x="122.2" y="468.87" width="10" height="2.4" fill="#0c0a18"/>
<path d="M57.5 424.8V420.3H128.75V424.8" fill="none" stroke="#111" stroke-width="1.4"/>
<polygon points="87.1,411.75 87.97,413.5 89.91,413.79 88.5,415.15 88.83,417.08 87.1,416.17 85.37,417.08 85.7,415.15 84.29,413.79 86.23,413.5" fill="#111"/>
<polygon points="93.3,411.75 94.17,413.5 96.11,413.79 94.7,415.15 95.03,417.08 93.3,416.17 91.57,417.08 91.9,415.15 90.49,413.79 92.43,413.5" fill="#111"/>
<polygon points="99.5,411.75 100.37,413.5 102.31,413.79 100.9,415.15 101.23,417.08 99.5,416.17 97.77,417.08 98.1,415.15 96.69,413.79 98.63,413.5" fill="#111"/>
<text x="58.5" y="562" font-size="10.4" text-anchor="middle" font-weight="bold" font-style="normal" fill="#111" stroke="#111" stroke-width="0.28">+/+</text>
<text x="90.9" y="562" font-size="10.4" text-anchor="middle" font-weight="bold" font-style="normal" fill="#111" stroke="#111" stroke-width="0.28">+/-</text>
<text x="124.6" y="562" font-size="10.4" text-anchor="middle" font-weight="bold" font-style="normal" fill="#111" stroke="#111" stroke-width="0.28">-/-</text>
<text x="92.5" y="573.6" font-size="11.0" text-anchor="middle" font-weight="bold" font-style="italic" fill="#111" stroke="#111" stroke-width="0.28">Casp9</text>
<rect x="36.25" y="597" width="111.25" height="118" fill="none" stroke="#b4b4b4" stroke-width="1"/>
<line x1="33.45" y1="710.5" x2="36.25" y2="710.5" stroke="#666" stroke-width="0.9"/>
<text x="30.2" y="710.5" font-size="5.0" text-anchor="middle" font-weight="normal" font-style="normal" fill="#333" stroke="#333" stroke-width="0.15" transform="rotate(-90 30.2 710.5)">0</text>
<line x1="33.45" y1="688.8" x2="36.25" y2="688.8" stroke="#666" stroke-width="0.9"/>
<text x="30.2" y="688.8" font-size="5.0" text-anchor="middle" font-weight="normal" font-style="normal" fill="#333" stroke="#333" stroke-width="0.15" transform="rotate(-90 30.2 688.8)">20</text>
<line x1="33.45" y1="667.1" x2="36.25" y2="667.1" stroke="#666" stroke-width="0.9"/>
<text x="30.2" y="667.1" font-size="5.0" text-anchor="middle" font-weight="normal" font-style="normal" fill="#333" stroke="#333" stroke-width="0.15" transform="rotate(-90 30.2 667.1)">40</text>
<line x1="33.45" y1="645.4" x2="36.25" y2="645.4" stroke="#666" stroke-width="0.9"/>
<text x="30.2" y="645.4" font-size="5.0" text-anchor="middle" font-weight="normal" font-style="normal" fill="#333" stroke="#333" stroke-width="0.15" transform="rotate(-90 30.2 645.4)">60</text>
<line x1="33.45" y1="623.7" x2="36.25" y2="623.7" stroke="#666" stroke-width="0.9"/>
<text x="30.2" y="623.7" font-size="5.0" text-anchor="middle" font-weight="normal" font-style="normal" fill="#333" stroke="#333" stroke-width="0.15" transform="rotate(-90 30.2 623.7)">80</text>
<line x1="33.45" y1="602" x2="36.25" y2="602" stroke="#666" stroke-width="0.9"/>
<text x="30.2" y="602" font-size="5.0" text-anchor="middle" font-weight="normal" font-style="normal" fill="#333" stroke="#333" stroke-width="0.15" transform="rotate(-90 30.2 602)">100</text>
<line x1="58" y1="715" x2="58" y2="717.5" stroke="#666" stroke-width="0.9"/>
<line x1="92.5" y1="715" x2="92.5" y2="717.5" stroke="#666" stroke-width="0.9"/>
<line x1="127.5" y1="715" x2="127.5" y2="717.5" stroke="#666" stroke-width="0.9"/>
<path d="M67.6 710.5 L67.75 710.39 L67.95 710.26 L68.2 710.1 L68.47 709.92 L68.74 709.71 L69.02 709.46 L69.28 709.19 L69.5 708.87 L69.7 708.55 L69.89 708.23 L70.08 707.9 L70.26 707.52 L70.43 707.09 L70.58 706.57 L70.72 705.94 L70.85 705.18 L70.97 704.27 L71.1 703.21 L71.23 702.04 L71.33 700.78 L71.42 699.48 L71.46 698.17 L71.46 696.87 L71.4 695.64 L71.28 694.43 L71.11 693.23 L70.9 692.02 L70.65 690.81 L70.36 689.6 L70.06 688.4 L69.73 687.19 L69.4 685.98 L69.04 684.77 L68.65 683.55 L68.24 682.34 L67.8 681.12 L67.35 679.91 L66.9 678.71 L66.44 677.51 L66 676.32 L65.55 675.15 L65.09 674 L64.62 672.86 L64.14 671.72 L63.68 670.58 L63.23 669.43 L62.8 668.28 L62.4 667.1 L62.02 665.93 L61.66 664.77 L61.3 663.62 L60.97 662.45 L60.66 661.26 L60.37 660.02 L60.12 658.72 L59.9 657.34 L59.72 655.89 L59.58 654.39 L59.47 652.83 L59.39 651.23 L59.33 649.58 L59.28 647.88 L59.24 646.12 L59.2 644.32 L59.16 642.43 L59.13 640.47 L59.1 638.44 L59.09 636.36 L59.1 634.26 L59.11 632.16 L59.15 630.08 L59.2 628.04 L59.28 625.99 L59.39 623.89 L59.52 621.78 L59.66 619.68 L59.81 617.63 L59.95 615.66 L60.09 613.8 L60.2 612.09 L60.3 610.48 L60.39 608.92 L60.48 607.43 L60.56 606.05 L60.64 604.79 L60.7 603.68 L60.76 602.74 L60.8 602 L55.2 602 L55.24 602.74 L55.3 603.68 L55.36 604.79 L55.44 606.05 L55.52 607.43 L55.61 608.92 L55.7 610.48 L55.8 612.09 L55.91 613.8 L56.05 615.66 L56.19 617.63 L56.34 619.68 L56.48 621.78 L56.61 623.89 L56.72 625.99 L56.8 628.04 L56.85 630.08 L56.89 632.16 L56.9 634.26 L56.91 636.36 L56.9 638.44 L56.87 640.47 L56.84 642.43 L56.8 644.32 L56.76 646.12 L56.72 647.88 L56.67 649.58 L56.61 651.23 L56.53 652.83 L56.42 654.39 L56.28 655.89 L56.1 657.34 L55.88 658.72 L55.63 660.02 L55.34 661.26 L55.03 662.45 L54.7 663.62 L54.34 664.77 L53.98 665.93 L53.6 667.1 L53.2 668.28 L52.77 669.43 L52.32 670.58 L51.86 671.72 L51.38 672.86 L50.91 674 L50.45 675.15 L50 676.32 L49.56 677.51 L49.1 678.71 L48.65 679.91 L48.2 681.12 L47.76 682.34 L47.35 683.55 L46.96 684.77 L46.6 685.98 L46.27 687.19 L45.94 688.4 L45.64 689.6 L45.35 690.81 L45.1 692.02 L44.89 693.23 L44.72 694.43 L44.6 695.64 L44.54 696.87 L44.54 698.17 L44.58 699.48 L44.67 700.78 L44.77 702.04 L44.9 703.21 L45.03 704.27 L45.15 705.18 L45.28 705.94 L45.42 706.57 L45.57 707.09 L45.74 707.52 L45.92 707.9 L46.11 708.23 L46.3 708.55 L46.5 708.87 L46.72 709.19 L46.98 709.46 L47.26 709.71 L47.53 709.92 L47.8 710.1 L48.05 710.26 L48.25 710.39 L48.4 710.5Z" fill="#5c5db2" stroke="#5c5db2" stroke-width="0.5" stroke-linejoin="round"/>
<path d="M103.45 710.5 L103.57 710.39 L103.74 710.26 L103.95 710.1 L104.17 709.92 L104.4 709.71 L104.63 709.46 L104.83 709.19 L105 708.87 L105.15 708.55 L105.29 708.23 L105.42 707.9 L105.55 707.52 L105.65 707.09 L105.74 706.57 L105.81 705.94 L105.85 705.18 L105.87 704.27 L105.88 703.21 L105.88 702.04 L105.85 700.78 L105.8 699.48 L105.72 698.17 L105.6 696.87 L105.45 695.64 L105.25 694.43 L105.02 693.23 L104.74 692.02 L104.44 690.81 L104.11 689.6 L103.77 688.4 L103.41 687.19 L103.05 685.98 L102.67 684.77 L102.25 683.55 L101.82 682.34 L101.37 681.12 L100.91 679.91 L100.46 678.71 L100.02 677.51 L99.6 676.32 L99.19 675.15 L98.77 674 L98.36 672.86 L97.95 671.72 L97.56 670.58 L97.18 669.43 L96.83 668.28 L96.5 667.1 L96.2 665.93 L95.91 664.77 L95.65 663.62 L95.41 662.45 L95.18 661.26 L94.97 660.02 L94.78 658.72 L94.6 657.34 L94.44 655.89 L94.29 654.39 L94.16 652.83 L94.05 651.23 L93.96 649.58 L93.88 647.88 L93.83 646.12 L93.8 644.32 L93.8 642.43 L93.82 640.47 L93.87 638.44 L93.93 636.36 L94.01 634.26 L94.1 632.16 L94.2 630.08 L94.3 628.04 L94.41 625.99 L94.54 623.89 L94.69 621.78 L94.84 619.68 L94.99 617.63 L95.14 615.66 L95.28 613.8 L95.4 612.09 L95.51 610.48 L95.61 608.92 L95.71 607.43 L95.79 606.05 L95.87 604.79 L95.94 603.68 L96 602.74 L96.05 602 L88.35 602 L88.4 602.74 L88.46 603.68 L88.53 604.79 L88.61 606.05 L88.69 607.43 L88.79 608.92 L88.89 610.48 L89 612.09 L89.12 613.8 L89.26 615.66 L89.41 617.63 L89.56 619.68 L89.71 621.78 L89.86 623.89 L89.99 625.99 L90.1 628.04 L90.2 630.08 L90.3 632.16 L90.39 634.26 L90.47 636.36 L90.53 638.44 L90.58 640.47 L90.6 642.43 L90.6 644.32 L90.57 646.12 L90.52 647.88 L90.44 649.58 L90.35 651.23 L90.24 652.83 L90.11 654.39 L89.96 655.89 L89.8 657.34 L89.62 658.72 L89.43 660.02 L89.22 661.26 L88.99 662.45 L88.75 663.62 L88.49 664.77 L88.2 665.93 L87.9 667.1 L87.57 668.28 L87.22 669.43 L86.84 670.58 L86.45 671.72 L86.04 672.86 L85.63 674 L85.21 675.15 L84.8 676.32 L84.38 677.51 L83.94 678.71 L83.49 679.91 L83.03 681.12 L82.58 682.34 L82.15 683.55 L81.73 684.77 L81.35 685.98 L80.99 687.19 L80.63 688.4 L80.29 689.6 L79.96 690.81 L79.66 692.02 L79.38 693.23 L79.15 694.43 L78.95 695.64 L78.8 696.87 L78.68 698.17 L78.6 699.48 L78.55 700.78 L78.52 702.04 L78.52 703.21 L78.53 704.27 L78.55 705.18 L78.59 705.94 L78.66 706.57 L78.75 707.09 L78.85 707.52 L78.98 707.9 L79.11 708.23 L79.25 708.55 L79.4 708.87 L79.57 709.19 L79.77 709.46 L80 709.71 L80.23 709.92 L80.45 710.1 L80.66 710.26 L80.83 710.39 L80.95 710.5Z" fill="#9a5db4" stroke="#9a5db4" stroke-width="0.5" stroke-linejoin="round"/>
<path d="M134.15 710.5 L134.24 710.39 L134.37 710.26 L134.51 710.1 L134.68 709.92 L134.85 709.71 L135.01 709.46 L135.17 709.19 L135.3 708.87 L135.41 708.55 L135.52 708.23 L135.62 707.9 L135.72 707.52 L135.81 707.09 L135.89 706.57 L135.97 705.94 L136.05 705.18 L136.13 704.27 L136.22 703.21 L136.31 702.04 L136.39 700.78 L136.46 699.48 L136.5 698.17 L136.52 696.87 L136.5 695.64 L136.44 694.43 L136.34 693.23 L136.22 692.02 L136.07 690.81 L135.91 689.6 L135.74 688.4 L135.56 687.19 L135.4 685.98 L135.24 684.77 L135.07 683.55 L134.89 682.34 L134.71 681.12 L134.52 679.91 L134.33 678.71 L134.14 677.51 L133.95 676.32 L133.76 675.15 L133.55 674 L133.35 672.86 L133.14 671.72 L132.93 670.58 L132.73 669.43 L132.54 668.28 L132.35 667.1 L132.17 665.9 L131.99 664.66 L131.81 663.42 L131.64 662.16 L131.48 660.92 L131.33 659.69 L131.18 658.49 L131.05 657.34 L130.92 656.2 L130.78 655.06 L130.64 653.94 L130.51 652.84 L130.41 651.78 L130.34 650.78 L130.32 649.84 L130.35 648.98 L130.45 648.24 L130.6 647.62 L130.79 647.09 L131.02 646.6 L131.27 646.12 L131.55 645.6 L131.82 645.01 L132.1 644.32 L132.38 643.51 L132.69 642.65 L133 641.73 L133.33 640.77 L133.67 639.78 L134.02 638.76 L134.36 637.74 L134.7 636.72 L135.05 635.67 L135.41 634.58 L135.78 633.45 L136.15 632.31 L136.51 631.18 L136.87 630.08 L137.2 629.03 L137.5 628.04 L137.78 627.12 L138.05 626.25 L138.3 625.43 L138.53 624.63 L138.75 623.85 L138.95 623.08 L139.13 622.31 L139.3 621.53 L139.44 620.72 L139.55 619.89 L139.64 619.06 L139.71 618.23 L139.77 617.44 L139.84 616.68 L139.91 615.98 L140 615.35 L140.11 614.81 L140.23 614.36 L140.35 613.97 L140.48 613.62 L140.6 613.29 L140.7 612.93 L140.79 612.54 L140.85 612.09 L140.88 611.58 L140.89 611.04 L140.88 610.48 L140.86 609.89 L140.82 609.29 L140.78 608.68 L140.74 608.05 L140.7 607.42 L140.66 606.75 L140.6 606 L140.53 605.21 L140.47 604.42 L140.4 603.67 L140.34 602.99 L140.29 602.42 L140.25 602 L113.55 602 L113.51 602.42 L113.46 602.99 L113.4 603.67 L113.33 604.42 L113.27 605.21 L113.2 606 L113.14 606.75 L113.1 607.42 L113.06 608.05 L113.02 608.68 L112.98 609.29 L112.94 609.89 L112.92 610.48 L112.91 611.04 L112.92 611.58 L112.95 612.09 L113.01 612.54 L113.1 612.93 L113.2 613.29 L113.32 613.62 L113.45 613.97 L113.57 614.36 L113.69 614.81 L113.8 615.35 L113.89 615.98 L113.96 616.68 L114.03 617.44 L114.09 618.23 L114.16 619.06 L114.25 619.89 L114.36 620.72 L114.5 621.53 L114.67 622.31 L114.85 623.08 L115.05 623.85 L115.27 624.63 L115.5 625.43 L115.75 626.25 L116.02 627.12 L116.3 628.04 L116.6 629.03 L116.93 630.08 L117.29 631.18 L117.65 632.31 L118.02 633.45 L118.39 634.58 L118.75 635.67 L119.1 636.72 L119.44 637.74 L119.78 638.76 L120.13 639.78 L120.47 640.77 L120.8 641.73 L121.11 642.65 L121.42 643.51 L121.7 644.32 L121.98 645.01 L122.25 645.6 L122.53 646.12 L122.78 646.6 L123.01 647.09 L123.2 647.62 L123.35 648.24 L123.45 648.98 L123.48 649.84 L123.46 650.78 L123.39 651.78 L123.29 652.84 L123.16 653.94 L123.02 655.06 L122.88 656.2 L122.75 657.34 L122.62 658.49 L122.47 659.69 L122.32 660.92 L122.16 662.16 L121.99 663.42 L121.81 664.66 L121.63 665.9 L121.45 667.1 L121.26 668.28 L121.07 669.43 L120.87 670.58 L120.66 671.72 L120.45 672.86 L120.25 674 L120.04 675.15 L119.85 676.32 L119.66 677.51 L119.47 678.71 L119.28 679.91 L119.09 681.12 L118.91 682.34 L118.73 683.55 L118.56 684.77 L118.4 685.98 L118.24 687.19 L118.06 688.4 L117.89 689.6 L117.73 690.81 L117.58 692.02 L117.46 693.23 L117.36 694.43 L117.3 695.64 L117.28 696.87 L117.3 698.17 L117.34 699.48 L117.41 700.78 L117.49 702.04 L117.58 703.21 L117.67 704.27 L117.75 705.18 L117.83 705.94 L117.91 706.57 L117.99 707.09 L118.08 707.52 L118.18 707.9 L118.28 708.23 L118.39 708.55 L118.5 708.87 L118.63 709.19 L118.79 709.46 L118.95 709.71 L119.12 709.92 L119.29 710.1 L119.43 710.26 L119.56 710.39 L119.65 710.5Z" fill="#cc0a16" stroke="#cc0a16" stroke-width="0.5" stroke-linejoin="round"/>
<line x1="57.7" y1="680.34" x2="57.7" y2="703.99" stroke="#1a1a48" stroke-width="1.2"/>
<rect x="52.55" y="681.2" width="10.3" height="2.4" fill="#0c0a18"/>
<line x1="92.5" y1="657.77" x2="92.5" y2="701.17" stroke="#1a1a48" stroke-width="1.2"/>
<rect x="87.8" y="675.45" width="9.4" height="2.4" fill="#0c0a18"/>
<line x1="126.9" y1="607.97" x2="126.9" y2="695.64" stroke="#6a0a18" stroke-width="1.4"/>
<rect x="122.05" y="647.02" width="9.7" height="2.4" fill="#0c0a18"/>
<path d="M57.5 595V590.1H129.25V595" fill="none" stroke="#111" stroke-width="1.4"/>
<polygon points="87.1,582.15 87.97,583.9 89.91,584.19 88.5,585.55 88.83,587.48 87.1,586.57 85.37,587.48 85.7,585.55 84.29,584.19 86.23,583.9" fill="#111"/>
<polygon points="93.3,582.15 94.17,583.9 96.11,584.19 94.7,585.55 95.03,587.48 93.3,586.57 91.57,587.48 91.9,585.55 90.49,584.19 92.43,583.9" fill="#111"/>
<polygon points="99.5,582.15 100.37,583.9 102.31,584.19 100.9,585.55 101.23,587.48 99.5,586.57 97.77,587.48 98.1,585.55 96.69,584.19 98.63,583.9" fill="#111"/>
<text x="58.3" y="729" font-size="10.4" text-anchor="middle" font-weight="bold" font-style="normal" fill="#111" stroke="#111" stroke-width="0.28">+/+</text>
<text x="90.9" y="729" font-size="10.4" text-anchor="middle" font-weight="bold" font-style="normal" fill="#111" stroke="#111" stroke-width="0.28">+/-</text>
<text x="124.6" y="729" font-size="10.4" text-anchor="middle" font-weight="bold" font-style="normal" fill="#111" stroke="#111" stroke-width="0.28">-/-</text>
<text x="91.5" y="743.3" font-size="11.0" text-anchor="middle" font-weight="bold" font-style="italic" fill="#111" stroke="#111" stroke-width="0.28">Apaf1</text>
<text x="11" y="482" font-size="10.9" text-anchor="middle" font-weight="bold" font-style="normal" fill="#111" stroke="#111" stroke-width="0.28" transform="rotate(-90 11 482)">% DNA in Tail</text>
<text x="11.2" y="643.1" font-size="10.9" text-anchor="middle" font-weight="bold" font-style="normal" fill="#111" stroke="#111" stroke-width="0.28" transform="rotate(-90 11.2 643.1)">% DNA in Tail</text>
<text x="396.8" y="415.4" font-size="10.8" text-anchor="middle" font-weight="bold" font-style="normal" fill="#111" stroke="#111" stroke-width="0.28">DMSO</text>
<line x1="340.2" y1="418.8" x2="453.4" y2="418.8" stroke="#111" stroke-width="1.7"/>
<text x="397.3" y="579.8" font-size="10.8" text-anchor="middle" font-weight="bold" font-style="normal" fill="#111" stroke="#111" stroke-width="0.28">ENU</text>
<line x1="340.2" y1="583.8" x2="453.4" y2="583.8" stroke="#111" stroke-width="1.7"/>
<text x="269.1" y="490" font-size="10.9" text-anchor="middle" font-weight="bold" font-style="normal" fill="#111" stroke="#111" stroke-width="0.28" transform="rotate(-90 269.1 490)">% DNA in Tail</text>
<text x="269.1" y="652" font-size="10.9" text-anchor="middle" font-weight="bold" font-style="normal" fill="#111" stroke="#111" stroke-width="0.28" transform="rotate(-90 269.1 652)">% DNA in Tail</text>
<rect x="283.7" y="442.6" width="90" height="93.4" fill="none" stroke="#b4b4b4" stroke-width="1"/>
<line x1="280.9" y1="533.2" x2="283.7" y2="533.2" stroke="#666" stroke-width="0.9"/>
<text x="278.6" y="533.2" font-size="4.3" text-anchor="middle" font-weight="normal" font-style="normal" fill="#333" stroke="#333" stroke-width="0.15" transform="rotate(-90 278.6 533.2)">0</text>
<line x1="280.9" y1="515.86" x2="283.7" y2="515.86" stroke="#666" stroke-width="0.9"/>
<text x="278.6" y="515.86" font-size="4.3" text-anchor="middle" font-weight="normal" font-style="normal" fill="#333" stroke="#333" stroke-width="0.15" transform="rotate(-90 278.6 515.86)">20</text>
<line x1="280.9" y1="498.52" x2="283.7" y2="498.52" stroke="#666" stroke-width="0.9"/>
<text x="278.6" y="498.52" font-size="4.3" text-anchor="middle" font-weight="normal" font-style="normal" fill="#333" stroke="#333" stroke-width="0.15" transform="rotate(-90 278.6 498.52)">40</text>
<line x1="280.9" y1="481.18" x2="283.7" y2="481.18" stroke="#666" stroke-width="0.9"/>
<text x="278.6" y="481.18" font-size="4.3" text-anchor="middle" font-weight="normal" font-style="normal" fill="#333" stroke="#333" stroke-width="0.15" transform="rotate(-90 278.6 481.18)">60</text>
<line x1="280.9" y1="463.84" x2="283.7" y2="463.84" stroke="#666" stroke-width="0.9"/>
<text x="278.6" y="463.84" font-size="4.3" text-anchor="middle" font-weight="normal" font-style="normal" fill="#333" stroke="#333" stroke-width="0.15" transform="rotate(-90 278.6 463.84)">80</text>
<line x1="280.9" y1="446.5" x2="283.7" y2="446.5" stroke="#666" stroke-width="0.9"/>
<text x="278.6" y="446.5" font-size="4.3" text-anchor="middle" font-weight="normal" font-style="normal" fill="#333" stroke="#333" stroke-width="0.15" transform="rotate(-90 278.6 446.5)">100</text>
<line x1="307.7" y1="536" x2="307.7" y2="538.5" stroke="#666" stroke-width="0.9"/>
<line x1="349.3" y1="536" x2="349.3" y2="538.5" stroke="#666" stroke-width="0.9"/>
<path d="M321.5 533.2 L321.64 533.1 L321.83 532.98 L322.06 532.83 L322.31 532.66 L322.57 532.48 L322.81 532.29 L323.03 532.09 L323.2 531.9 L323.34 531.71 L323.47 531.52 L323.58 531.32 L323.68 531.11 L323.76 530.9 L323.8 530.67 L323.82 530.43 L323.8 530.17 L323.75 529.89 L323.67 529.61 L323.57 529.33 L323.44 529.02 L323.28 528.7 L323.08 528.35 L322.86 527.97 L322.6 527.56 L322.3 527.11 L321.96 526.62 L321.58 526.1 L321.17 525.55 L320.74 524.99 L320.3 524.43 L319.85 523.87 L319.4 523.32 L318.94 522.77 L318.46 522.22 L317.97 521.67 L317.47 521.11 L316.96 520.55 L316.46 520 L315.97 519.44 L315.5 518.89 L315.03 518.35 L314.56 517.8 L314.09 517.26 L313.63 516.72 L313.19 516.17 L312.76 515.64 L312.37 515.1 L312 514.56 L311.66 514.02 L311.35 513.49 L311.06 512.96 L310.8 512.44 L310.55 511.91 L310.33 511.38 L310.13 510.85 L309.95 510.31 L309.8 509.8 L309.69 509.34 L309.6 508.88 L309.53 508.42 L309.47 507.92 L309.42 507.37 L309.36 506.73 L309.3 505.98 L309.23 505.1 L309.16 504.11 L309.09 503.03 L309.03 501.89 L308.97 500.72 L308.91 499.55 L308.85 498.4 L308.8 497.31 L308.75 496.33 L308.71 495.49 L308.66 494.71 L308.62 493.9 L308.59 493 L308.56 491.93 L308.53 490.62 L308.5 488.98 L308.48 486.99 L308.46 484.68 L308.45 482.13 L308.44 479.41 L308.43 476.59 L308.42 473.73 L308.41 470.9 L308.4 468.18 L308.39 465.36 L308.37 462.31 L308.36 459.16 L308.34 456.04 L308.33 453.08 L308.32 450.42 L308.31 448.18 L308.3 446.5 L307.1 446.5 L307.09 448.18 L307.08 450.42 L307.07 453.08 L307.06 456.04 L307.04 459.16 L307.03 462.31 L307.01 465.36 L307 468.18 L306.99 470.9 L306.98 473.73 L306.97 476.59 L306.96 479.41 L306.95 482.13 L306.94 484.68 L306.92 486.99 L306.9 488.98 L306.87 490.62 L306.84 491.93 L306.81 493 L306.77 493.9 L306.74 494.71 L306.69 495.49 L306.65 496.33 L306.6 497.31 L306.55 498.4 L306.49 499.55 L306.43 500.72 L306.37 501.89 L306.31 503.03 L306.24 504.11 L306.17 505.1 L306.1 505.98 L306.04 506.73 L305.98 507.37 L305.93 507.92 L305.87 508.42 L305.8 508.88 L305.71 509.34 L305.6 509.8 L305.45 510.31 L305.27 510.85 L305.07 511.38 L304.85 511.91 L304.6 512.44 L304.34 512.96 L304.05 513.49 L303.74 514.02 L303.4 514.56 L303.03 515.1 L302.64 515.64 L302.21 516.17 L301.77 516.72 L301.31 517.26 L300.84 517.8 L300.37 518.35 L299.9 518.89 L299.43 519.44 L298.94 520 L298.44 520.55 L297.93 521.11 L297.43 521.67 L296.94 522.22 L296.46 522.77 L296 523.32 L295.55 523.87 L295.1 524.43 L294.66 524.99 L294.23 525.55 L293.82 526.1 L293.44 526.62 L293.1 527.11 L292.8 527.56 L292.54 527.97 L292.32 528.35 L292.12 528.7 L291.96 529.02 L291.83 529.33 L291.73 529.61 L291.65 529.89 L291.6 530.17 L291.58 530.43 L291.6 530.67 L291.64 530.9 L291.72 531.11 L291.82 531.32 L291.93 531.52 L292.06 531.71 L292.2 531.9 L292.37 532.09 L292.59 532.29 L292.83 532.48 L293.09 532.66 L293.34 532.83 L293.57 532.98 L293.76 533.1 L293.9 533.2Z" fill="#5c5db2" stroke="#5c5db2" stroke-width="0.5" stroke-linejoin="round"/>
<path d="M362.4 533.2 L362.54 533.1 L362.73 532.98 L362.96 532.83 L363.21 532.66 L363.46 532.48 L363.71 532.29 L363.92 532.1 L364.1 531.9 L364.23 531.71 L364.34 531.52 L364.43 531.33 L364.5 531.12 L364.57 530.91 L364.63 530.66 L364.71 530.39 L364.8 530.08 L364.92 529.73 L365.07 529.33 L365.23 528.91 L365.39 528.46 L365.54 528 L365.65 527.53 L365.71 527.06 L365.7 526.61 L365.63 526.18 L365.51 525.75 L365.35 525.33 L365.15 524.9 L364.92 524.46 L364.66 524 L364.39 523.5 L364.1 522.97 L363.79 522.39 L363.44 521.76 L363.06 521.11 L362.66 520.43 L362.24 519.74 L361.82 519.04 L361.41 518.35 L361 517.68 L360.59 517.02 L360.18 516.36 L359.75 515.7 L359.33 515.04 L358.9 514.38 L358.49 513.71 L358.09 513.05 L357.7 512.39 L357.33 511.74 L356.96 511.09 L356.61 510.45 L356.26 509.81 L355.93 509.16 L355.6 508.49 L355.3 507.81 L355 507.1 L354.72 506.39 L354.46 505.67 L354.21 504.94 L353.98 504.2 L353.75 503.43 L353.53 502.62 L353.32 501.77 L353.1 500.86 L352.88 499.89 L352.67 498.85 L352.46 497.77 L352.25 496.65 L352.06 495.5 L351.87 494.36 L351.7 493.22 L351.55 492.1 L351.42 491 L351.3 489.9 L351.2 488.79 L351.12 487.69 L351.04 486.58 L350.96 485.47 L350.88 484.37 L350.8 483.26 L350.72 482.2 L350.63 481.19 L350.55 480.21 L350.47 479.22 L350.39 478.18 L350.32 477.05 L350.25 475.81 L350.2 474.42 L350.16 472.83 L350.12 471.07 L350.1 469.19 L350.08 467.22 L350.06 465.22 L350.04 463.24 L350.02 461.32 L350 459.51 L349.97 457.7 L349.95 455.81 L349.92 453.92 L349.89 452.07 L349.86 450.34 L349.84 448.79 L349.82 447.49 L349.8 446.5 L348.4 446.5 L348.38 447.49 L348.36 448.79 L348.34 450.34 L348.31 452.07 L348.28 453.92 L348.25 455.81 L348.23 457.7 L348.2 459.51 L348.18 461.32 L348.16 463.24 L348.14 465.22 L348.12 467.22 L348.1 469.19 L348.08 471.07 L348.04 472.83 L348 474.42 L347.95 475.81 L347.88 477.05 L347.81 478.18 L347.73 479.22 L347.65 480.21 L347.57 481.19 L347.48 482.2 L347.4 483.26 L347.32 484.37 L347.24 485.47 L347.16 486.58 L347.08 487.69 L347 488.79 L346.9 489.9 L346.78 491 L346.65 492.1 L346.5 493.22 L346.33 494.36 L346.14 495.5 L345.95 496.65 L345.74 497.77 L345.53 498.85 L345.32 499.89 L345.1 500.86 L344.88 501.77 L344.67 502.62 L344.45 503.43 L344.22 504.2 L343.99 504.94 L343.74 505.67 L343.48 506.39 L343.2 507.1 L342.9 507.81 L342.6 508.49 L342.27 509.16 L341.94 509.81 L341.59 510.45 L341.24 511.09 L340.87 511.74 L340.5 512.39 L340.11 513.05 L339.71 513.71 L339.3 514.38 L338.88 515.04 L338.45 515.7 L338.03 516.36 L337.61 517.02 L337.2 517.68 L336.79 518.35 L336.38 519.04 L335.96 519.74 L335.54 520.43 L335.14 521.11 L334.76 521.76 L334.41 522.39 L334.1 522.97 L333.81 523.5 L333.54 524 L333.28 524.46 L333.05 524.9 L332.85 525.33 L332.69 525.75 L332.57 526.18 L332.5 526.61 L332.49 527.06 L332.55 527.53 L332.66 528 L332.81 528.46 L332.97 528.91 L333.13 529.33 L333.28 529.73 L333.4 530.08 L333.49 530.39 L333.57 530.66 L333.63 530.91 L333.7 531.12 L333.77 531.33 L333.86 531.52 L333.97 531.71 L334.1 531.9 L334.28 532.1 L334.49 532.29 L334.74 532.48 L334.99 532.66 L335.24 532.83 L335.47 532.98 L335.66 533.1 L335.8 533.2Z" fill="#cc0a16" stroke="#cc0a16" stroke-width="0.5" stroke-linejoin="round"/>
<line x1="307.5" y1="522.8" x2="307.5" y2="531.9" stroke="#1a1a48" stroke-width="1.2"/>
<rect x="303.95" y="521.6" width="7.1" height="2.4" fill="#0c0a18"/>
<line x1="349.1" y1="508.06" x2="349.1" y2="527.48" stroke="#6a0a18" stroke-width="1.4"/>
<rect x="345.6" y="512.58" width="7" height="2.4" fill="#0c0a18"/>
<path d="M306.5 440.9V436.2H350.2V440.9" fill="none" stroke="#111" stroke-width="1.4"/>
<polygon points="323.75,428.15 324.62,429.9 326.56,430.19 325.15,431.55 325.48,433.48 323.75,432.57 322.02,433.48 322.35,431.55 320.94,430.19 322.88,429.9" fill="#111"/>
<polygon points="329.95,428.15 330.82,429.9 332.76,430.19 331.35,431.55 331.68,433.48 329.95,432.57 328.22,433.48 328.55,431.55 327.14,430.19 329.08,429.9" fill="#111"/>
<polygon points="336.15,428.15 337.02,429.9 338.96,430.19 337.55,431.55 337.88,433.48 336.15,432.57 334.42,433.48 334.75,431.55 333.34,430.19 335.28,429.9" fill="#111"/>
<text x="307" y="548.4" font-size="10.2" text-anchor="middle" font-weight="bold" font-style="normal" fill="#111" stroke="#111" stroke-width="0.28">+/+</text>
<text x="349.8" y="548.4" font-size="10.2" text-anchor="middle" font-weight="bold" font-style="normal" fill="#111" stroke="#111" stroke-width="0.28">-/-</text>
<text x="327" y="558.6" font-size="11.0" text-anchor="middle" font-weight="bold" font-style="italic" fill="#111" stroke="#111" stroke-width="0.28">Casp9</text>
<rect x="428.7" y="443.1" width="89.7" height="93.9" fill="none" stroke="#b4b4b4" stroke-width="1"/>
<line x1="425.9" y1="534" x2="428.7" y2="534" stroke="#666" stroke-width="0.9"/>
<text x="423.2" y="534" font-size="4.3" text-anchor="middle" font-weight="normal" font-style="normal" fill="#333" stroke="#333" stroke-width="0.15" transform="rotate(-90 423.2 534)">0</text>
<line x1="425.9" y1="516.64" x2="428.7" y2="516.64" stroke="#666" stroke-width="0.9"/>
<text x="423.2" y="516.64" font-size="4.3" text-anchor="middle" font-weight="normal" font-style="normal" fill="#333" stroke="#333" stroke-width="0.15" transform="rotate(-90 423.2 516.64)">20</text>
<line x1="425.9" y1="499.28" x2="428.7" y2="499.28" stroke="#666" stroke-width="0.9"/>
<text x="423.2" y="499.28" font-size="4.3" text-anchor="middle" font-weight="normal" font-style="normal" fill="#333" stroke="#333" stroke-width="0.15" transform="rotate(-90 423.2 499.28)">40</text>
<line x1="425.9" y1="481.92" x2="428.7" y2="481.92" stroke="#666" stroke-width="0.9"/>
<text x="423.2" y="481.92" font-size="4.3" text-anchor="middle" font-weight="normal" font-style="normal" fill="#333" stroke="#333" stroke-width="0.15" transform="rotate(-90 423.2 481.92)">60</text>
<line x1="425.9" y1="464.56" x2="428.7" y2="464.56" stroke="#666" stroke-width="0.9"/>
<text x="423.2" y="464.56" font-size="4.3" text-anchor="middle" font-weight="normal" font-style="normal" fill="#333" stroke="#333" stroke-width="0.15" transform="rotate(-90 423.2 464.56)">80</text>
<line x1="425.9" y1="447.2" x2="428.7" y2="447.2" stroke="#666" stroke-width="0.9"/>
<text x="423.2" y="447.2" font-size="4.3" text-anchor="middle" font-weight="normal" font-style="normal" fill="#333" stroke="#333" stroke-width="0.15" transform="rotate(-90 423.2 447.2)">100</text>
<line x1="452.4" y1="537" x2="452.4" y2="539.5" stroke="#666" stroke-width="0.9"/>
<line x1="493.8" y1="537" x2="493.8" y2="539.5" stroke="#666" stroke-width="0.9"/>
<path d="M467.4 534 L467.52 533.84 L467.7 533.64 L467.92 533.39 L468.16 533.12 L468.38 532.83 L468.56 532.52 L468.67 532.22 L468.7 531.92 L468.64 531.63 L468.53 531.34 L468.37 531.05 L468.16 530.76 L467.92 530.44 L467.64 530.1 L467.33 529.72 L467 529.31 L466.64 528.85 L466.23 528.35 L465.79 527.81 L465.31 527.25 L464.82 526.67 L464.31 526.09 L463.8 525.52 L463.3 524.97 L462.78 524.44 L462.24 523.91 L461.68 523.38 L461.11 522.85 L460.55 522.32 L460 521.79 L459.48 521.26 L459 520.72 L458.55 520.19 L458.12 519.66 L457.71 519.14 L457.32 518.61 L456.94 518.07 L456.59 517.51 L456.26 516.92 L455.95 516.29 L455.66 515.64 L455.4 514.97 L455.15 514.28 L454.93 513.56 L454.72 512.82 L454.53 512.03 L454.36 511.19 L454.2 510.3 L454.06 509.38 L453.95 508.42 L453.85 507.42 L453.77 506.39 L453.7 505.3 L453.64 504.14 L453.6 502.92 L453.55 501.62 L453.52 500.27 L453.5 498.89 L453.49 497.45 L453.49 495.95 L453.5 494.36 L453.5 492.66 L453.5 490.83 L453.5 488.86 L453.49 486.73 L453.48 484.42 L453.47 481.98 L453.45 479.44 L453.44 476.83 L453.43 474.18 L453.41 471.53 L453.4 468.9 L453.39 466.12 L453.37 463.09 L453.36 459.94 L453.34 456.8 L453.33 453.82 L453.32 451.14 L453.31 448.89 L453.3 447.2 L452.1 447.2 L452.09 448.89 L452.08 451.14 L452.07 453.82 L452.06 456.8 L452.04 459.94 L452.03 463.09 L452.01 466.12 L452 468.9 L451.99 471.53 L451.97 474.18 L451.96 476.83 L451.95 479.44 L451.93 481.98 L451.92 484.42 L451.91 486.73 L451.9 488.86 L451.9 490.83 L451.9 492.66 L451.9 494.36 L451.91 495.95 L451.91 497.45 L451.9 498.89 L451.88 500.27 L451.85 501.62 L451.8 502.92 L451.76 504.14 L451.7 505.3 L451.63 506.39 L451.55 507.42 L451.45 508.42 L451.34 509.38 L451.2 510.3 L451.04 511.19 L450.87 512.03 L450.68 512.82 L450.47 513.56 L450.25 514.28 L450 514.97 L449.74 515.64 L449.45 516.29 L449.14 516.92 L448.81 517.51 L448.46 518.07 L448.08 518.61 L447.69 519.14 L447.28 519.66 L446.85 520.19 L446.4 520.72 L445.92 521.26 L445.4 521.79 L444.85 522.32 L444.29 522.85 L443.72 523.38 L443.16 523.91 L442.62 524.44 L442.1 524.97 L441.6 525.52 L441.09 526.09 L440.58 526.67 L440.09 527.25 L439.61 527.81 L439.17 528.35 L438.76 528.85 L438.4 529.31 L438.07 529.72 L437.76 530.1 L437.48 530.44 L437.24 530.76 L437.03 531.05 L436.87 531.34 L436.76 531.63 L436.7 531.92 L436.73 532.22 L436.84 532.52 L437.02 532.83 L437.24 533.12 L437.48 533.39 L437.7 533.64 L437.88 533.84 L438 534Z" fill="#5c5db2" stroke="#5c5db2" stroke-width="0.5" stroke-linejoin="round"/>
<path d="M509.4 534 L509.48 533.84 L509.6 533.64 L509.75 533.39 L509.9 533.12 L510.03 532.83 L510.13 532.52 L510.16 532.22 L510.1 531.92 L509.96 531.63 L509.75 531.34 L509.49 531.05 L509.18 530.76 L508.84 530.44 L508.47 530.1 L508.09 529.72 L507.7 529.31 L507.3 528.85 L506.86 528.35 L506.4 527.81 L505.92 527.25 L505.42 526.67 L504.93 526.09 L504.43 525.52 L503.95 524.97 L503.47 524.44 L502.97 523.91 L502.46 523.38 L501.96 522.85 L501.46 522.32 L500.98 521.79 L500.53 521.26 L500.1 520.72 L499.7 520.19 L499.31 519.66 L498.95 519.14 L498.6 518.61 L498.27 518.07 L497.96 517.51 L497.67 516.92 L497.4 516.29 L497.15 515.64 L496.93 514.97 L496.73 514.28 L496.55 513.56 L496.38 512.82 L496.23 512.03 L496.08 511.19 L495.95 510.3 L495.83 509.38 L495.72 508.42 L495.63 507.42 L495.56 506.39 L495.49 505.3 L495.42 504.14 L495.36 502.92 L495.3 501.62 L495.24 500.27 L495.19 498.89 L495.14 497.45 L495.09 495.95 L495.05 494.36 L495.01 492.66 L494.98 490.83 L494.95 488.86 L494.93 486.71 L494.91 484.38 L494.9 481.91 L494.89 479.33 L494.88 476.7 L494.87 474.06 L494.86 471.44 L494.85 468.9 L494.83 466.27 L494.81 463.44 L494.79 460.54 L494.77 457.67 L494.75 454.96 L494.73 452.52 L494.71 450.48 L494.7 448.94 L493.5 448.94 L493.49 450.48 L493.47 452.52 L493.45 454.96 L493.43 457.67 L493.41 460.54 L493.39 463.44 L493.37 466.27 L493.35 468.9 L493.34 471.44 L493.33 474.06 L493.32 476.7 L493.31 479.33 L493.3 481.91 L493.29 484.38 L493.27 486.71 L493.25 488.86 L493.22 490.83 L493.19 492.66 L493.15 494.36 L493.11 495.95 L493.06 497.45 L493.01 498.89 L492.96 500.27 L492.9 501.62 L492.84 502.92 L492.78 504.14 L492.71 505.3 L492.64 506.39 L492.57 507.42 L492.48 508.42 L492.37 509.38 L492.25 510.3 L492.12 511.19 L491.97 512.03 L491.82 512.82 L491.65 513.56 L491.47 514.28 L491.27 514.97 L491.05 515.64 L490.8 516.29 L490.53 516.92 L490.24 517.51 L489.93 518.07 L489.6 518.61 L489.25 519.14 L488.89 519.66 L488.5 520.19 L488.1 520.72 L487.67 521.26 L487.22 521.79 L486.74 522.32 L486.24 522.85 L485.74 523.38 L485.23 523.91 L484.73 524.44 L484.25 524.97 L483.77 525.52 L483.27 526.09 L482.78 526.67 L482.28 527.25 L481.8 527.81 L481.34 528.35 L480.9 528.85 L480.5 529.31 L480.11 529.72 L479.73 530.1 L479.36 530.44 L479.02 530.76 L478.71 531.05 L478.45 531.34 L478.24 531.63 L478.1 531.92 L478.04 532.22 L478.07 532.52 L478.17 532.83 L478.3 533.12 L478.45 533.39 L478.6 533.64 L478.72 533.84 L478.8 534Z" fill="#cc0a16" stroke="#cc0a16" stroke-width="0.5" stroke-linejoin="round"/>
<line x1="452.6" y1="525.84" x2="452.6" y2="533.57" stroke="#1a1a48" stroke-width="1.2"/>
<rect x="449.1" y="524.64" width="7" height="2.4" fill="#0c0a18"/>
<line x1="494" y1="526.27" x2="494" y2="533.13" stroke="#6a0a18" stroke-width="1.4"/>
<rect x="490.55" y="525.07" width="6.9" height="2.4" fill="#0c0a18"/>
<path d="M450.8 441.5V436.4H494.6V441.5" fill="none" stroke="#111" stroke-width="1.4"/>
<text x="472.4" y="434.6" font-size="11.3" text-anchor="middle" font-weight="bold" font-style="normal" fill="#111" stroke="#111" stroke-width="0.28">ns</text>
<text x="451.8" y="548.4" font-size="10.2" text-anchor="middle" font-weight="bold" font-style="normal" fill="#111" stroke="#111" stroke-width="0.28">+/+</text>
<text x="494" y="548.4" font-size="10.2" text-anchor="middle" font-weight="bold" font-style="normal" fill="#111" stroke="#111" stroke-width="0.28">-/-</text>
<text x="473" y="558.4" font-size="11.0" text-anchor="middle" font-weight="bold" font-style="italic" fill="#111" stroke="#111" stroke-width="0.28">Apaf1</text>
<rect x="283.7" y="604.2" width="89.8" height="94.1" fill="none" stroke="#b4b4b4" stroke-width="1"/>
<line x1="280.9" y1="695.2" x2="283.7" y2="695.2" stroke="#666" stroke-width="0.9"/>
<text x="278.6" y="695.2" font-size="4.3" text-anchor="middle" font-weight="normal" font-style="normal" fill="#333" stroke="#333" stroke-width="0.15" transform="rotate(-90 278.6 695.2)">0</text>
<line x1="280.9" y1="677.65" x2="283.7" y2="677.65" stroke="#666" stroke-width="0.9"/>
<text x="278.6" y="677.65" font-size="4.3" text-anchor="middle" font-weight="normal" font-style="normal" fill="#333" stroke="#333" stroke-width="0.15" transform="rotate(-90 278.6 677.65)">20</text>
<line x1="280.9" y1="660.1" x2="283.7" y2="660.1" stroke="#666" stroke-width="0.9"/>
<text x="278.6" y="660.1" font-size="4.3" text-anchor="middle" font-weight="normal" font-style="normal" fill="#333" stroke="#333" stroke-width="0.15" transform="rotate(-90 278.6 660.1)">40</text>
<line x1="280.9" y1="642.55" x2="283.7" y2="642.55" stroke="#666" stroke-width="0.9"/>
<text x="278.6" y="642.55" font-size="4.3" text-anchor="middle" font-weight="normal" font-style="normal" fill="#333" stroke="#333" stroke-width="0.15" transform="rotate(-90 278.6 642.55)">60</text>
<line x1="280.9" y1="625" x2="283.7" y2="625" stroke="#666" stroke-width="0.9"/>
<text x="278.6" y="625" font-size="4.3" text-anchor="middle" font-weight="normal" font-style="normal" fill="#333" stroke="#333" stroke-width="0.15" transform="rotate(-90 278.6 625)">80</text>
<line x1="280.9" y1="607.45" x2="283.7" y2="607.45" stroke="#666" stroke-width="0.9"/>
<text x="278.6" y="607.45" font-size="4.3" text-anchor="middle" font-weight="normal" font-style="normal" fill="#333" stroke="#333" stroke-width="0.15" transform="rotate(-90 278.6 607.45)">100</text>
<line x1="307.7" y1="698.3" x2="307.7" y2="700.8" stroke="#666" stroke-width="0.9"/>
<line x1="349.3" y1="698.3" x2="349.3" y2="700.8" stroke="#666" stroke-width="0.9"/>
<path d="M319.4 695.2 L319.52 695.16 L319.69 695.12 L319.88 695.08 L320.1 695.02 L320.33 694.93 L320.56 694.8 L320.79 694.6 L321 694.32 L321.2 693.97 L321.4 693.56 L321.6 693.08 L321.8 692.56 L322 692 L322.2 691.4 L322.4 690.76 L322.6 690.11 L322.82 689.42 L323.06 688.69 L323.3 687.93 L323.55 687.13 L323.77 686.3 L323.97 685.45 L324.11 684.58 L324.2 683.7 L324.23 682.81 L324.22 681.9 L324.17 680.96 L324.08 680 L323.96 679.03 L323.81 678.03 L323.64 677.02 L323.45 675.98 L323.23 674.92 L322.98 673.83 L322.7 672.72 L322.4 671.59 L322.07 670.45 L321.73 669.3 L321.37 668.16 L321 667.03 L320.61 665.91 L320.18 664.78 L319.73 663.65 L319.27 662.51 L318.81 661.38 L318.35 660.25 L317.91 659.12 L317.5 657.99 L317.1 656.87 L316.7 655.75 L316.3 654.63 L315.92 653.52 L315.56 652.4 L315.23 651.29 L314.94 650.17 L314.7 649.04 L314.51 647.93 L314.36 646.82 L314.25 645.71 L314.17 644.61 L314.12 643.49 L314.09 642.35 L314.09 641.19 L314.1 640.01 L314.13 638.77 L314.17 637.5 L314.24 636.19 L314.32 634.87 L314.44 633.55 L314.59 632.25 L314.78 630.97 L315 629.74 L315.28 628.53 L315.62 627.33 L316.01 626.14 L316.42 624.98 L316.84 623.84 L317.26 622.75 L317.65 621.7 L318 620.7 L318.33 619.76 L318.65 618.86 L318.97 618.01 L319.28 617.2 L319.56 616.42 L319.8 615.68 L320 614.97 L320.15 614.29 L320.24 613.65 L320.27 613.05 L320.26 612.48 L320.21 611.95 L320.14 611.45 L320.06 610.97 L319.97 610.52 L319.9 610.08 L319.82 609.66 L319.72 609.25 L319.61 608.86 L319.48 608.5 L319.37 608.17 L319.26 607.89 L319.17 607.64 L319.1 607.45 L295.9 607.45 L295.83 607.64 L295.74 607.89 L295.63 608.17 L295.52 608.5 L295.39 608.86 L295.28 609.25 L295.18 609.66 L295.1 610.08 L295.03 610.52 L294.94 610.97 L294.86 611.45 L294.79 611.95 L294.74 612.48 L294.73 613.05 L294.76 613.65 L294.85 614.29 L295 614.97 L295.2 615.68 L295.44 616.42 L295.72 617.2 L296.03 618.01 L296.35 618.86 L296.67 619.76 L297 620.7 L297.35 621.7 L297.74 622.75 L298.16 623.84 L298.58 624.98 L298.99 626.14 L299.38 627.33 L299.72 628.53 L300 629.74 L300.22 630.97 L300.41 632.25 L300.56 633.55 L300.68 634.87 L300.76 636.19 L300.83 637.5 L300.87 638.77 L300.9 640.01 L300.91 641.19 L300.91 642.35 L300.88 643.49 L300.83 644.61 L300.75 645.71 L300.64 646.82 L300.49 647.93 L300.3 649.04 L300.06 650.17 L299.77 651.29 L299.44 652.4 L299.08 653.52 L298.7 654.63 L298.3 655.75 L297.9 656.87 L297.5 657.99 L297.09 659.12 L296.65 660.25 L296.19 661.38 L295.73 662.51 L295.27 663.65 L294.82 664.78 L294.39 665.91 L294 667.03 L293.63 668.16 L293.27 669.3 L292.93 670.45 L292.6 671.59 L292.3 672.72 L292.02 673.83 L291.77 674.92 L291.55 675.98 L291.36 677.02 L291.19 678.03 L291.04 679.03 L290.92 680 L290.83 680.96 L290.78 681.9 L290.77 682.81 L290.8 683.7 L290.89 684.58 L291.03 685.45 L291.23 686.3 L291.45 687.13 L291.7 687.93 L291.94 688.69 L292.18 689.42 L292.4 690.11 L292.6 690.76 L292.8 691.4 L293 692 L293.2 692.56 L293.4 693.08 L293.6 693.56 L293.8 693.97 L294 694.32 L294.21 694.6 L294.44 694.8 L294.67 694.93 L294.9 695.02 L295.12 695.08 L295.31 695.12 L295.48 695.16 L295.6 695.2Z" fill="#5c5db2" stroke="#5c5db2" stroke-width="0.5" stroke-linejoin="round"/>
<path d="M349.9 695.2 L349.95 695.12 L350.01 695.02 L350.08 694.91 L350.17 694.78 L350.25 694.62 L350.34 694.42 L350.42 694.17 L350.5 693.88 L350.57 693.55 L350.63 693.17 L350.69 692.76 L350.75 692.32 L350.82 691.83 L350.89 691.3 L350.96 690.72 L351.05 690.11 L351.15 689.44 L351.25 688.73 L351.37 687.96 L351.49 687.15 L351.61 686.32 L351.74 685.46 L351.87 684.59 L352 683.7 L352.15 682.81 L352.31 681.9 L352.49 680.96 L352.67 680 L352.83 679.03 L352.97 678.03 L353.08 677.02 L353.15 675.98 L353.17 674.98 L353.15 674.04 L353.09 673.11 L353.02 672.15 L352.93 671.1 L352.83 669.93 L352.74 668.59 L352.65 667.03 L352.56 665.17 L352.45 663.02 L352.34 660.67 L352.22 658.21 L352.11 655.72 L352.01 653.31 L351.94 651.05 L351.9 649.04 L351.89 647.24 L351.91 645.53 L351.95 643.93 L352 642.42 L352.07 641.01 L352.14 639.7 L352.22 638.49 L352.3 637.37 L352.38 636.39 L352.47 635.55 L352.57 634.83 L352.68 634.19 L352.78 633.62 L352.89 633.09 L353 632.56 L353.1 632.02 L353.18 631.48 L353.23 630.99 L353.27 630.53 L353.31 630.09 L353.38 629.67 L353.49 629.26 L353.65 628.84 L353.9 628.42 L354.23 628.01 L354.64 627.61 L355.1 627.23 L355.61 626.85 L356.15 626.47 L356.69 626.07 L357.23 625.64 L357.75 625.18 L358.26 624.69 L358.79 624.19 L359.33 623.67 L359.87 623.14 L360.41 622.57 L360.94 621.98 L361.45 621.36 L361.95 620.7 L362.45 619.98 L362.96 619.18 L363.48 618.34 L363.98 617.48 L364.45 616.62 L364.87 615.79 L365.23 615 L365.5 614.29 L365.68 613.65 L365.78 613.05 L365.81 612.48 L365.79 611.95 L365.74 611.45 L365.68 610.97 L365.63 610.52 L365.6 610.08 L365.58 609.66 L365.56 609.25 L365.52 608.86 L365.48 608.5 L365.44 608.17 L365.4 607.89 L365.37 607.64 L365.35 607.45 L332.85 607.45 L332.83 607.64 L332.8 607.89 L332.76 608.17 L332.72 608.5 L332.68 608.86 L332.64 609.25 L332.62 609.66 L332.6 610.08 L332.57 610.52 L332.52 610.97 L332.46 611.45 L332.41 611.95 L332.39 612.48 L332.42 613.05 L332.52 613.65 L332.7 614.29 L332.97 615 L333.33 615.79 L333.75 616.62 L334.22 617.48 L334.72 618.34 L335.24 619.18 L335.75 619.98 L336.25 620.7 L336.75 621.36 L337.26 621.98 L337.79 622.57 L338.33 623.14 L338.87 623.67 L339.41 624.19 L339.94 624.69 L340.45 625.18 L340.97 625.64 L341.51 626.07 L342.05 626.47 L342.59 626.85 L343.1 627.23 L343.56 627.61 L343.97 628.01 L344.3 628.42 L344.55 628.84 L344.71 629.26 L344.82 629.67 L344.89 630.09 L344.93 630.53 L344.97 630.99 L345.02 631.48 L345.1 632.02 L345.2 632.56 L345.31 633.09 L345.42 633.62 L345.53 634.19 L345.63 634.83 L345.73 635.55 L345.82 636.39 L345.9 637.37 L345.98 638.49 L346.06 639.7 L346.13 641.01 L346.2 642.42 L346.25 643.93 L346.29 645.53 L346.31 647.24 L346.3 649.04 L346.26 651.05 L346.19 653.31 L346.09 655.72 L345.98 658.21 L345.86 660.67 L345.75 663.02 L345.64 665.17 L345.55 667.03 L345.46 668.59 L345.37 669.93 L345.27 671.1 L345.18 672.15 L345.11 673.11 L345.05 674.04 L345.03 674.98 L345.05 675.98 L345.12 677.02 L345.23 678.03 L345.37 679.03 L345.53 680 L345.71 680.96 L345.89 681.9 L346.05 682.81 L346.2 683.7 L346.33 684.59 L346.46 685.46 L346.59 686.32 L346.71 687.15 L346.83 687.96 L346.95 688.73 L347.05 689.44 L347.15 690.11 L347.24 690.72 L347.31 691.3 L347.38 691.83 L347.45 692.32 L347.51 692.76 L347.57 693.17 L347.63 693.55 L347.7 693.88 L347.78 694.17 L347.86 694.42 L347.95 694.62 L348.03 694.78 L348.12 694.91 L348.19 695.02 L348.25 695.12 L348.3 695.2Z" fill="#cc0a16" stroke="#cc0a16" stroke-width="0.5" stroke-linejoin="round"/>
<line x1="307.8" y1="617.54" x2="307.8" y2="686.43" stroke="#1a1a48" stroke-width="1.2"/>
<rect x="303.8" y="651.62" width="8" height="2.4" fill="#0c0a18"/>
<line x1="349.15" y1="610.08" x2="349.15" y2="692.57" stroke="#6a0a18" stroke-width="1.4"/>
<rect x="345" y="628.54" width="8.3" height="2.4" fill="#0c0a18"/>
<path d="M307.4 602.6V597.6H350.4V602.6" fill="none" stroke="#111" stroke-width="1.4"/>
<polygon points="323.75,588.75 324.62,590.5 326.56,590.79 325.15,592.15 325.48,594.08 323.75,593.17 322.02,594.08 322.35,592.15 320.94,590.79 322.88,590.5" fill="#111"/>
<polygon points="329.95,588.75 330.82,590.5 332.76,590.79 331.35,592.15 331.68,594.08 329.95,593.17 328.22,594.08 328.55,592.15 327.14,590.79 329.08,590.5" fill="#111"/>
<polygon points="336.15,588.75 337.02,590.5 338.96,590.79 337.55,592.15 337.88,594.08 336.15,593.17 334.42,594.08 334.75,592.15 333.34,590.79 335.28,590.5" fill="#111"/>
<text x="307" y="710.4" font-size="10.2" text-anchor="middle" font-weight="bold" font-style="normal" fill="#111" stroke="#111" stroke-width="0.28">+/+</text>
<text x="349.6" y="710.4" font-size="10.2" text-anchor="middle" font-weight="bold" font-style="normal" fill="#111" stroke="#111" stroke-width="0.28">-/-</text>
<text x="326.8" y="722.4" font-size="11.0" text-anchor="middle" font-weight="bold" font-style="italic" fill="#111" stroke="#111" stroke-width="0.28">Casp9</text>
<rect x="428.6" y="604.2" width="88.4" height="93.6" fill="none" stroke="#b4b4b4" stroke-width="1"/>
<line x1="425.8" y1="695.2" x2="428.6" y2="695.2" stroke="#666" stroke-width="0.9"/>
<text x="423.2" y="695.2" font-size="4.3" text-anchor="middle" font-weight="normal" font-style="normal" fill="#333" stroke="#333" stroke-width="0.15" transform="rotate(-90 423.2 695.2)">0</text>
<line x1="425.8" y1="677.65" x2="428.6" y2="677.65" stroke="#666" stroke-width="0.9"/>
<text x="423.2" y="677.65" font-size="4.3" text-anchor="middle" font-weight="normal" font-style="normal" fill="#333" stroke="#333" stroke-width="0.15" transform="rotate(-90 423.2 677.65)">20</text>
<line x1="425.8" y1="660.1" x2="428.6" y2="660.1" stroke="#666" stroke-width="0.9"/>
<text x="423.2" y="660.1" font-size="4.3" text-anchor="middle" font-weight="normal" font-style="normal" fill="#333" stroke="#333" stroke-width="0.15" transform="rotate(-90 423.2 660.1)">40</text>
<line x1="425.8" y1="642.55" x2="428.6" y2="642.55" stroke="#666" stroke-width="0.9"/>
<text x="423.2" y="642.55" font-size="4.3" text-anchor="middle" font-weight="normal" font-style="normal" fill="#333" stroke="#333" stroke-width="0.15" transform="rotate(-90 423.2 642.55)">60</text>
<line x1="425.8" y1="625" x2="428.6" y2="625" stroke="#666" stroke-width="0.9"/>
<text x="423.2" y="625" font-size="4.3" text-anchor="middle" font-weight="normal" font-style="normal" fill="#333" stroke="#333" stroke-width="0.15" transform="rotate(-90 423.2 625)">80</text>
<line x1="425.8" y1="607.45" x2="428.6" y2="607.45" stroke="#666" stroke-width="0.9"/>
<text x="423.2" y="607.45" font-size="4.3" text-anchor="middle" font-weight="normal" font-style="normal" fill="#333" stroke="#333" stroke-width="0.15" transform="rotate(-90 423.2 607.45)">100</text>
<line x1="452.3" y1="697.8" x2="452.3" y2="700.3" stroke="#666" stroke-width="0.9"/>
<line x1="494" y1="697.8" x2="494" y2="700.3" stroke="#666" stroke-width="0.9"/>
<path d="M463.1 695.2 L463.25 695.16 L463.46 695.12 L463.7 695.08 L463.97 695.02 L464.25 694.93 L464.55 694.8 L464.83 694.6 L465.1 694.32 L465.36 693.97 L465.64 693.56 L465.92 693.08 L466.19 692.56 L466.47 692 L466.73 691.4 L466.98 690.76 L467.2 690.11 L467.42 689.42 L467.64 688.69 L467.86 687.93 L468.06 687.13 L468.24 686.3 L468.38 685.45 L468.47 684.58 L468.5 683.7 L468.47 682.81 L468.38 681.9 L468.25 680.96 L468.08 680 L467.88 679.03 L467.66 678.03 L467.43 677.02 L467.2 675.98 L466.95 674.92 L466.68 673.83 L466.39 672.72 L466.08 671.59 L465.76 670.45 L465.44 669.3 L465.12 668.16 L464.8 667.03 L464.48 665.91 L464.15 664.78 L463.81 663.65 L463.47 662.51 L463.13 661.38 L462.8 660.25 L462.49 659.12 L462.2 657.99 L461.92 656.87 L461.65 655.75 L461.39 654.63 L461.13 653.52 L460.9 652.4 L460.69 651.29 L460.5 650.17 L460.35 649.04 L460.22 647.93 L460.12 646.82 L460.03 645.71 L459.97 644.61 L459.94 643.49 L459.93 642.35 L459.95 641.19 L460 640.01 L460.08 638.77 L460.19 637.5 L460.32 636.19 L460.49 634.87 L460.68 633.55 L460.89 632.25 L461.13 630.97 L461.4 629.74 L461.71 628.53 L462.06 627.33 L462.44 626.14 L462.85 624.98 L463.27 623.84 L463.68 622.75 L464.08 621.7 L464.45 620.7 L464.81 619.76 L465.17 618.86 L465.54 618.01 L465.89 617.2 L466.22 616.42 L466.53 615.68 L466.79 614.97 L467 614.29 L467.16 613.65 L467.27 613.05 L467.33 612.48 L467.37 611.95 L467.39 611.45 L467.39 610.97 L467.39 610.52 L467.4 610.08 L467.4 609.66 L467.39 609.25 L467.36 608.86 L467.33 608.5 L467.29 608.17 L467.25 607.89 L467.22 607.64 L467.2 607.45 L437 607.45 L436.98 607.64 L436.95 607.89 L436.91 608.17 L436.88 608.5 L436.84 608.86 L436.81 609.25 L436.8 609.66 L436.8 610.08 L436.81 610.52 L436.81 610.97 L436.81 611.45 L436.83 611.95 L436.87 612.48 L436.93 613.05 L437.04 613.65 L437.2 614.29 L437.41 614.97 L437.67 615.68 L437.98 616.42 L438.31 617.2 L438.66 618.01 L439.03 618.86 L439.39 619.76 L439.75 620.7 L440.12 621.7 L440.52 622.75 L440.93 623.84 L441.35 624.98 L441.76 626.14 L442.14 627.33 L442.49 628.53 L442.8 629.74 L443.07 630.97 L443.31 632.25 L443.52 633.55 L443.71 634.87 L443.88 636.19 L444.01 637.5 L444.12 638.77 L444.2 640.01 L444.25 641.19 L444.27 642.35 L444.26 643.49 L444.23 644.61 L444.17 645.71 L444.08 646.82 L443.98 647.93 L443.85 649.04 L443.7 650.17 L443.51 651.29 L443.3 652.4 L443.07 653.52 L442.81 654.63 L442.55 655.75 L442.28 656.87 L442 657.99 L441.71 659.12 L441.4 660.25 L441.07 661.38 L440.73 662.51 L440.39 663.65 L440.05 664.78 L439.72 665.91 L439.4 667.03 L439.08 668.16 L438.76 669.3 L438.44 670.45 L438.12 671.59 L437.81 672.72 L437.52 673.83 L437.25 674.92 L437 675.98 L436.77 677.02 L436.54 678.03 L436.32 679.03 L436.12 680 L435.95 680.96 L435.82 681.9 L435.73 682.81 L435.7 683.7 L435.73 684.58 L435.82 685.45 L435.96 686.3 L436.14 687.13 L436.34 687.93 L436.56 688.69 L436.78 689.42 L437 690.11 L437.22 690.76 L437.47 691.4 L437.73 692 L438.01 692.56 L438.28 693.08 L438.56 693.56 L438.84 693.97 L439.1 694.32 L439.37 694.6 L439.65 694.8 L439.95 694.93 L440.23 695.02 L440.5 695.08 L440.74 695.12 L440.95 695.16 L441.1 695.2Z" fill="#5c5db2" stroke="#5c5db2" stroke-width="0.5" stroke-linejoin="round"/>
<path d="M496.1 695.2 L496.13 695.15 L496.18 695.1 L496.23 695.05 L496.29 694.98 L496.35 694.88 L496.4 694.75 L496.46 694.56 L496.5 694.32 L496.54 694.03 L496.57 693.71 L496.6 693.36 L496.62 692.96 L496.64 692.51 L496.67 692 L496.68 691.44 L496.7 690.81 L496.72 690.16 L496.74 689.51 L496.75 688.83 L496.77 688.08 L496.78 687.23 L496.78 686.24 L496.77 685.08 L496.75 683.7 L496.71 682.09 L496.65 680.24 L496.58 678.21 L496.5 676.05 L496.42 673.8 L496.35 671.52 L496.29 669.24 L496.25 667.03 L496.23 664.8 L496.22 662.48 L496.22 660.11 L496.23 657.73 L496.25 655.38 L496.28 653.13 L496.31 651 L496.35 649.04 L496.39 647.25 L496.42 645.59 L496.46 644.03 L496.51 642.56 L496.57 641.18 L496.66 639.86 L496.79 638.6 L496.95 637.37 L497.15 636.2 L497.38 635.11 L497.64 634.08 L497.93 633.11 L498.24 632.2 L498.58 631.34 L498.95 630.52 L499.35 629.74 L499.79 629.02 L500.27 628.38 L500.8 627.8 L501.34 627.26 L501.9 626.75 L502.45 626.24 L502.99 625.72 L503.5 625.18 L503.99 624.63 L504.48 624.1 L504.96 623.58 L505.43 623.05 L505.9 622.52 L506.36 621.95 L506.81 621.35 L507.25 620.7 L507.7 619.98 L508.18 619.18 L508.66 618.34 L509.12 617.48 L509.56 616.62 L509.94 615.79 L510.26 615 L510.5 614.29 L510.64 613.65 L510.7 613.05 L510.68 612.48 L510.62 611.95 L510.54 611.45 L510.44 610.97 L510.36 610.52 L510.3 610.08 L510.26 609.66 L510.21 609.25 L510.16 608.86 L510.11 608.5 L510.06 608.17 L510.02 607.89 L509.98 607.64 L509.95 607.45 L477.85 607.45 L477.82 607.64 L477.78 607.89 L477.74 608.17 L477.69 608.5 L477.64 608.86 L477.59 609.25 L477.54 609.66 L477.5 610.08 L477.44 610.52 L477.36 610.97 L477.26 611.45 L477.17 611.95 L477.12 612.48 L477.1 613.05 L477.16 613.65 L477.3 614.29 L477.54 615 L477.86 615.79 L478.24 616.62 L478.68 617.48 L479.14 618.34 L479.62 619.18 L480.1 619.98 L480.55 620.7 L480.99 621.35 L481.44 621.95 L481.9 622.52 L482.37 623.05 L482.84 623.58 L483.32 624.1 L483.81 624.63 L484.3 625.18 L484.81 625.72 L485.35 626.24 L485.9 626.75 L486.46 627.26 L487 627.8 L487.53 628.38 L488.01 629.02 L488.45 629.74 L488.85 630.52 L489.22 631.34 L489.56 632.2 L489.87 633.11 L490.16 634.08 L490.42 635.11 L490.65 636.2 L490.85 637.37 L491.01 638.6 L491.14 639.86 L491.23 641.18 L491.29 642.56 L491.34 644.03 L491.38 645.59 L491.41 647.25 L491.45 649.04 L491.49 651 L491.52 653.13 L491.55 655.38 L491.57 657.73 L491.58 660.11 L491.58 662.48 L491.57 664.8 L491.55 667.03 L491.51 669.24 L491.45 671.52 L491.38 673.8 L491.3 676.05 L491.22 678.21 L491.15 680.24 L491.09 682.09 L491.05 683.7 L491.03 685.08 L491.02 686.24 L491.02 687.23 L491.03 688.08 L491.05 688.83 L491.06 689.51 L491.08 690.16 L491.1 690.81 L491.12 691.44 L491.13 692 L491.16 692.51 L491.18 692.96 L491.2 693.36 L491.23 693.71 L491.26 694.03 L491.3 694.32 L491.34 694.56 L491.4 694.75 L491.45 694.88 L491.51 694.98 L491.57 695.05 L491.62 695.1 L491.67 695.15 L491.7 695.2Z" fill="#cc0a16" stroke="#cc0a16" stroke-width="0.5" stroke-linejoin="round"/>
<line x1="452.15" y1="616.23" x2="452.15" y2="683.79" stroke="#1a1a48" stroke-width="1.2"/>
<rect x="448" y="649.51" width="8.3" height="2.4" fill="#0c0a18"/>
<line x1="494.2" y1="611.84" x2="494.2" y2="690.81" stroke="#6a0a18" stroke-width="1.4"/>
<rect x="491.3" y="628.54" width="5.8" height="2.4" fill="#0c0a18"/>
<path d="M452.9 602.4V597.4H496.2V602.4" fill="none" stroke="#111" stroke-width="1.4"/>
<polygon points="468.3,588.95 469.17,590.7 471.11,590.99 469.7,592.35 470.03,594.28 468.3,593.37 466.57,594.28 466.9,592.35 465.49,590.99 467.43,590.7" fill="#111"/>
<polygon points="474.5,588.95 475.37,590.7 477.31,590.99 475.9,592.35 476.23,594.28 474.5,593.37 472.77,594.28 473.1,592.35 471.69,590.99 473.63,590.7" fill="#111"/>
<polygon points="480.7,588.95 481.57,590.7 483.51,590.99 482.1,592.35 482.43,594.28 480.7,593.37 478.97,594.28 479.3,592.35 477.89,590.99 479.83,590.7" fill="#111"/>
<text x="452" y="710" font-size="10.2" text-anchor="middle" font-weight="bold" font-style="normal" fill="#111" stroke="#111" stroke-width="0.28">+/+</text>
<text x="494" y="710" font-size="10.2" text-anchor="middle" font-weight="bold" font-style="normal" fill="#111" stroke="#111" stroke-width="0.28">-/-</text>
<text x="473" y="722" font-size="11.0" text-anchor="middle" font-weight="bold" font-style="italic" fill="#111" stroke="#111" stroke-width="0.28">Apaf1</text>
</svg>
</body></html>
